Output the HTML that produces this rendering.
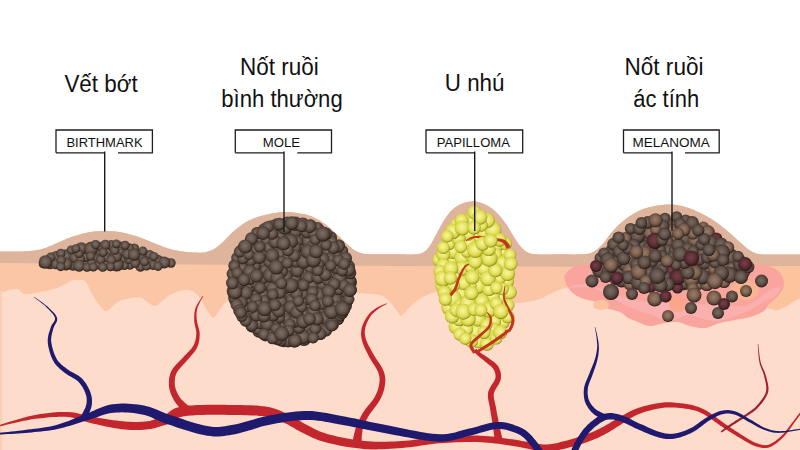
<!DOCTYPE html><html><head><meta charset="utf-8"><style>html,body{margin:0;padding:0;background:#fff}body{width:800px;height:450px;overflow:hidden;font-family:"Liberation Sans",sans-serif}svg{display:block}</style></head><body><svg width="800" height="450" viewBox="0 0 800 450"><defs>
<radialGradient id="gb" cx="47%" cy="44%" r="56%"><stop offset="0" stop-color="#7d6e66"/><stop offset="0.5" stop-color="#66574f"/><stop offset="0.82" stop-color="#483a33"/><stop offset="1" stop-color="#20160f"/></radialGradient>
<radialGradient id="gy" cx="47%" cy="44%" r="56%"><stop offset="0" stop-color="#f6f4a6"/><stop offset="0.35" stop-color="#eeeb78"/><stop offset="0.7" stop-color="#dcd950"/><stop offset="0.88" stop-color="#bab834"/><stop offset="1" stop-color="#787814"/></radialGradient>
<radialGradient id="gm" cx="47%" cy="44%" r="56%"><stop offset="0" stop-color="#7a6a60"/><stop offset="0.5" stop-color="#63544c"/><stop offset="0.82" stop-color="#453731"/><stop offset="1" stop-color="#1e1410"/></radialGradient>
<radialGradient id="gt" cx="47%" cy="44%" r="56%"><stop offset="0" stop-color="#9a7c66"/><stop offset="0.5" stop-color="#806453"/><stop offset="0.82" stop-color="#574237"/><stop offset="1" stop-color="#21160f"/></radialGradient>
<radialGradient id="gr" cx="47%" cy="44%" r="56%"><stop offset="0" stop-color="#764048"/><stop offset="0.5" stop-color="#603038"/><stop offset="0.82" stop-color="#452228"/><stop offset="1" stop-color="#200c10"/></radialGradient>
</defs><rect width="800" height="450" fill="#fff"/><path fill="#fac6a5" d="M-5.0 251.5 L-3.4 251.5 L-1.3 251.5 L1.3 251.5 L4.1 251.5 L7.0 251.5 L9.9 251.5 L12.6 251.5 L15.0 251.5 L17.1 251.5 L19.2 251.4 L21.1 251.4 L23.0 251.4 L24.8 251.3 L26.6 251.2 L28.3 251.1 L30.0 251.0 L31.6 250.8 L33.2 250.7 L34.7 250.5 L36.1 250.3 L37.6 250.0 L39.0 249.7 L40.5 249.4 L42.0 249.0 L43.6 248.5 L45.1 248.0 L46.7 247.4 L48.3 246.8 L49.9 246.1 L51.6 245.4 L53.3 244.7 L55.0 244.0 L56.8 243.2 L58.5 242.4 L60.3 241.6 L62.2 240.8 L64.1 239.9 L66.0 239.1 L68.0 238.3 L70.0 237.5 L72.1 236.8 L74.3 236.1 L76.6 235.4 L78.9 234.7 L81.2 234.1 L83.5 233.5 L85.8 232.9 L88.0 232.5 L90.2 232.1 L92.3 231.8 L94.4 231.5 L96.6 231.3 L98.7 231.2 L100.8 231.1 L102.9 231.0 L105.0 231.0 L107.1 231.0 L109.2 231.1 L111.3 231.2 L113.4 231.3 L115.6 231.5 L117.7 231.8 L119.8 232.1 L122.0 232.5 L124.2 233.0 L126.5 233.5 L128.8 234.1 L131.1 234.7 L133.4 235.4 L135.7 236.1 L137.9 236.8 L140.0 237.5 L142.0 238.2 L144.0 238.9 L145.8 239.7 L147.7 240.5 L149.5 241.2 L151.3 242.0 L153.1 242.8 L155.0 243.5 L156.9 244.2 L158.8 245.0 L160.7 245.7 L162.6 246.5 L164.5 247.2 L166.4 247.8 L168.2 248.5 L170.0 249.0 L171.7 249.5 L173.4 249.9 L175.1 250.2 L176.7 250.5 L178.3 250.8 L179.9 251.1 L181.4 251.3 L183.0 251.5 L184.6 251.7 L186.2 251.9 L187.7 252.0 L189.3 252.2 L190.8 252.3 L192.3 252.4 L193.7 252.4 L195.0 252.5 L196.2 252.6 L197.3 252.6 L198.3 252.7 L199.2 252.7 L200.2 252.7 L201.1 252.7 L202.0 252.6 L203.0 252.5 L204.0 252.4 L205.0 252.2 L206.1 252.0 L207.1 251.7 L208.1 251.4 L209.1 251.2 L210.1 250.8 L211.0 250.5 L211.8 250.2 L212.6 249.8 L213.4 249.4 L214.1 249.0 L214.8 248.6 L215.5 248.1 L216.2 247.6 L217.0 247.0 L217.8 246.4 L218.6 245.8 L219.4 245.1 L220.2 244.4 L221.1 243.7 L222.0 242.8 L223.0 242.0 L224.0 241.0 L225.1 239.9 L226.2 238.8 L227.4 237.5 L228.6 236.2 L229.9 234.9 L231.2 233.6 L232.6 232.3 L234.0 231.0 L235.5 229.8 L237.0 228.5 L238.7 227.2 L240.3 226.0 L242.0 224.7 L243.7 223.6 L245.4 222.5 L247.0 221.5 L248.6 220.6 L250.2 219.9 L251.8 219.2 L253.4 218.5 L255.0 217.9 L256.6 217.4 L258.3 216.8 L260.0 216.3 L261.8 215.8 L263.7 215.3 L265.6 214.8 L267.6 214.4 L269.5 214.0 L271.4 213.6 L273.3 213.3 L275.0 213.0 L276.6 212.7 L278.2 212.5 L279.7 212.3 L281.1 212.2 L282.6 212.1 L284.0 212.0 L285.5 212.0 L287.0 212.0 L288.6 212.1 L290.2 212.2 L291.8 212.3 L293.5 212.5 L295.2 212.7 L296.8 213.0 L298.4 213.2 L300.0 213.5 L301.5 213.8 L303.0 214.0 L304.5 214.3 L306.0 214.6 L307.5 215.0 L309.0 215.4 L310.5 215.9 L312.0 216.5 L313.6 217.2 L315.2 218.0 L316.8 218.9 L318.5 219.8 L320.2 220.8 L321.8 221.8 L323.4 222.9 L325.0 224.0 L326.6 225.2 L328.1 226.4 L329.7 227.8 L331.2 229.1 L332.7 230.5 L334.2 231.9 L335.6 233.2 L337.0 234.5 L338.4 235.8 L339.7 237.0 L341.0 238.3 L342.2 239.5 L343.5 240.7 L344.7 241.9 L345.9 243.0 L347.0 244.0 L348.1 245.0 L349.1 245.9 L350.1 246.8 L351.1 247.6 L352.0 248.4 L353.0 249.2 L354.0 249.9 L355.0 250.5 L356.0 251.1 L357.0 251.6 L358.0 252.1 L359.0 252.5 L360.1 252.9 L361.2 253.2 L362.5 253.5 L364.0 253.8 L365.6 254.0 L367.4 254.1 L369.3 254.2 L371.3 254.3 L373.4 254.3 L375.6 254.3 L377.8 254.3 L380.0 254.3 L382.3 254.3 L384.8 254.3 L387.4 254.3 L390.1 254.3 L392.7 254.3 L395.3 254.3 L397.7 254.3 L400.0 254.3 L402.2 254.3 L404.3 254.3 L406.3 254.4 L408.2 254.4 L410.1 254.4 L411.9 254.4 L413.5 254.4 L415.0 254.3 L416.3 254.2 L417.5 254.1 L418.6 253.9 L419.6 253.7 L420.5 253.5 L421.3 253.3 L422.1 252.9 L423.0 252.5 L423.8 252.0 L424.6 251.5 L425.4 251.0 L426.1 250.4 L426.8 249.7 L427.5 248.9 L428.2 248.0 L429.0 247.0 L429.8 245.8 L430.7 244.5 L431.6 243.0 L432.4 241.5 L433.3 239.9 L434.2 238.2 L435.1 236.6 L436.0 235.0 L436.9 233.4 L437.7 231.8 L438.6 230.1 L439.4 228.4 L440.3 226.8 L441.2 225.1 L442.1 223.5 L443.0 222.0 L443.9 220.5 L444.9 219.0 L445.9 217.5 L446.9 216.1 L447.9 214.7 L448.9 213.4 L449.9 212.1 L451.0 211.0 L452.1 209.9 L453.2 209.0 L454.3 208.1 L455.4 207.2 L456.5 206.5 L457.7 205.8 L458.8 205.1 L460.0 204.5 L461.2 203.9 L462.5 203.4 L463.8 203.0 L465.1 202.6 L466.4 202.2 L467.6 201.9 L468.8 201.7 L470.0 201.5 L471.1 201.4 L472.1 201.3 L473.1 201.3 L474.0 201.3 L474.9 201.4 L475.9 201.5 L476.9 201.7 L478.0 202.0 L479.2 202.3 L480.4 202.7 L481.6 203.1 L482.9 203.6 L484.2 204.1 L485.5 204.7 L486.8 205.3 L488.0 206.0 L489.2 206.7 L490.3 207.4 L491.4 208.2 L492.6 209.1 L493.7 210.0 L494.8 210.9 L495.9 211.9 L497.0 213.0 L498.1 214.2 L499.3 215.4 L500.4 216.7 L501.6 218.1 L502.7 219.6 L503.8 221.0 L504.9 222.5 L506.0 224.0 L507.1 225.5 L508.1 227.2 L509.1 228.9 L510.1 230.6 L511.1 232.3 L512.1 233.9 L513.1 235.5 L514.0 237.0 L514.9 238.4 L515.8 239.8 L516.7 241.2 L517.6 242.5 L518.4 243.7 L519.3 244.9 L520.1 246.0 L521.0 247.0 L521.9 247.9 L522.7 248.8 L523.5 249.6 L524.4 250.3 L525.2 250.9 L526.1 251.5 L527.0 252.0 L528.0 252.5 L528.9 252.9 L529.8 253.3 L530.6 253.5 L531.5 253.7 L532.5 253.9 L533.7 254.1 L535.2 254.2 L537.0 254.3 L539.2 254.4 L541.8 254.4 L544.7 254.4 L547.8 254.4 L551.0 254.4 L554.1 254.3 L557.2 254.3 L560.0 254.3 L562.7 254.3 L565.4 254.3 L568.2 254.3 L570.8 254.4 L573.4 254.4 L575.8 254.4 L578.0 254.3 L580.0 254.3 L581.7 254.2 L583.3 254.2 L584.6 254.1 L585.8 254.0 L586.9 253.9 L587.9 253.8 L589.0 253.6 L590.0 253.3 L591.0 253.0 L592.0 252.6 L592.8 252.2 L593.7 251.8 L594.5 251.3 L595.3 250.7 L596.1 250.1 L597.0 249.5 L597.9 248.8 L598.7 248.1 L599.6 247.3 L600.4 246.4 L601.3 245.5 L602.2 244.6 L603.1 243.6 L604.0 242.5 L604.9 241.4 L605.9 240.1 L606.8 238.8 L607.8 237.4 L608.8 236.1 L609.8 234.7 L610.9 233.3 L612.0 232.0 L613.1 230.7 L614.3 229.4 L615.6 228.1 L616.8 226.8 L618.1 225.6 L619.4 224.3 L620.7 223.2 L622.0 222.0 L623.3 220.9 L624.7 219.8 L626.0 218.7 L627.4 217.7 L628.8 216.7 L630.2 215.8 L631.6 214.9 L633.0 214.0 L634.4 213.2 L635.9 212.4 L637.4 211.6 L638.9 210.9 L640.4 210.3 L641.9 209.6 L643.4 209.1 L645.0 208.5 L646.6 208.0 L648.2 207.5 L649.8 207.1 L651.5 206.7 L653.2 206.4 L654.8 206.1 L656.4 205.8 L658.0 205.5 L659.5 205.3 L661.1 205.1 L662.6 204.9 L664.1 204.7 L665.5 204.6 L667.0 204.5 L668.5 204.5 L670.0 204.5 L671.5 204.5 L673.0 204.6 L674.5 204.7 L675.9 204.9 L677.4 205.1 L678.9 205.4 L680.5 205.7 L682.0 206.0 L683.6 206.4 L685.2 206.9 L686.8 207.4 L688.4 207.9 L690.1 208.5 L691.7 209.2 L693.4 209.8 L695.0 210.5 L696.6 211.2 L698.3 211.9 L699.9 212.7 L701.6 213.5 L703.2 214.4 L704.8 215.2 L706.4 216.1 L708.0 217.0 L709.5 217.9 L711.1 218.8 L712.6 219.8 L714.1 220.8 L715.5 221.8 L717.0 222.8 L718.5 223.9 L720.0 225.0 L721.5 226.2 L723.0 227.4 L724.6 228.6 L726.1 229.9 L727.6 231.2 L729.1 232.5 L730.6 233.8 L732.0 235.0 L733.4 236.2 L734.7 237.4 L736.0 238.6 L737.2 239.7 L738.5 240.9 L739.7 241.9 L740.9 243.0 L742.0 244.0 L743.1 245.0 L744.1 245.9 L745.1 246.8 L746.1 247.6 L747.0 248.4 L748.0 249.1 L749.0 249.8 L750.0 250.5 L751.0 251.1 L752.0 251.7 L753.0 252.2 L754.0 252.6 L755.1 253.0 L756.2 253.4 L757.5 253.7 L759.0 254.0 L760.6 254.2 L762.2 254.4 L763.9 254.5 L765.7 254.5 L767.7 254.5 L769.9 254.6 L772.3 254.6 L775.0 254.6 L778.3 254.6 L782.2 254.6 L786.5 254.6 L791.0 254.6 L795.3 254.6 L799.3 254.6 L802.6 254.6 L805.0 254.6 L805 455 L-5 455 Z"/><path fill="#deb49c" d="M-5.0 251.5 L-3.4 251.5 L-1.3 251.5 L1.3 251.5 L4.1 251.5 L7.0 251.5 L9.9 251.5 L12.6 251.5 L15.0 251.5 L17.1 251.5 L19.2 251.4 L21.1 251.4 L23.0 251.4 L24.8 251.3 L26.6 251.2 L28.3 251.1 L30.0 251.0 L31.6 250.8 L33.2 250.7 L34.7 250.5 L36.1 250.3 L37.6 250.0 L39.0 249.7 L40.5 249.4 L42.0 249.0 L43.6 248.5 L45.1 248.0 L46.7 247.4 L48.3 246.8 L49.9 246.1 L51.6 245.4 L53.3 244.7 L55.0 244.0 L56.8 243.2 L58.5 242.4 L60.3 241.6 L62.2 240.8 L64.1 239.9 L66.0 239.1 L68.0 238.3 L70.0 237.5 L72.1 236.8 L74.3 236.1 L76.6 235.4 L78.9 234.7 L81.2 234.1 L83.5 233.5 L85.8 232.9 L88.0 232.5 L90.2 232.1 L92.3 231.8 L94.4 231.5 L96.6 231.3 L98.7 231.2 L100.8 231.1 L102.9 231.0 L105.0 231.0 L107.1 231.0 L109.2 231.1 L111.3 231.2 L113.4 231.3 L115.6 231.5 L117.7 231.8 L119.8 232.1 L122.0 232.5 L124.2 233.0 L126.5 233.5 L128.8 234.1 L131.1 234.7 L133.4 235.4 L135.7 236.1 L137.9 236.8 L140.0 237.5 L142.0 238.2 L144.0 238.9 L145.8 239.7 L147.7 240.5 L149.5 241.2 L151.3 242.0 L153.1 242.8 L155.0 243.5 L156.9 244.2 L158.8 245.0 L160.7 245.7 L162.6 246.5 L164.5 247.2 L166.4 247.8 L168.2 248.5 L170.0 249.0 L171.7 249.5 L173.4 249.9 L175.1 250.2 L176.7 250.5 L178.3 250.8 L179.9 251.1 L181.4 251.3 L183.0 251.5 L184.6 251.7 L186.2 251.9 L187.7 252.0 L189.3 252.2 L190.8 252.3 L192.3 252.4 L193.7 252.4 L195.0 252.5 L196.2 252.6 L197.3 252.6 L198.3 252.7 L199.2 252.7 L200.2 252.7 L201.1 252.7 L202.0 252.6 L203.0 252.5 L204.0 252.4 L205.0 252.2 L206.1 252.0 L207.1 251.7 L208.1 251.4 L209.1 251.2 L210.1 250.8 L211.0 250.5 L211.8 250.2 L212.6 249.8 L213.4 249.4 L214.1 249.0 L214.8 248.6 L215.5 248.1 L216.2 247.6 L217.0 247.0 L217.8 246.4 L218.6 245.8 L219.4 245.1 L220.2 244.4 L221.1 243.7 L222.0 242.8 L223.0 242.0 L224.0 241.0 L225.1 239.9 L226.2 238.8 L227.4 237.5 L228.6 236.2 L229.9 234.9 L231.2 233.6 L232.6 232.3 L234.0 231.0 L235.5 229.8 L237.0 228.5 L238.7 227.2 L240.3 226.0 L242.0 224.7 L243.7 223.6 L245.4 222.5 L247.0 221.5 L248.6 220.6 L250.2 219.9 L251.8 219.2 L253.4 218.5 L255.0 217.9 L256.6 217.4 L258.3 216.8 L260.0 216.3 L261.8 215.8 L263.7 215.3 L265.6 214.8 L267.6 214.4 L269.5 214.0 L271.4 213.6 L273.3 213.3 L275.0 213.0 L276.6 212.7 L278.2 212.5 L279.7 212.3 L281.1 212.2 L282.6 212.1 L284.0 212.0 L285.5 212.0 L287.0 212.0 L288.6 212.1 L290.2 212.2 L291.8 212.3 L293.5 212.5 L295.2 212.7 L296.8 213.0 L298.4 213.2 L300.0 213.5 L301.5 213.8 L303.0 214.0 L304.5 214.3 L306.0 214.6 L307.5 215.0 L309.0 215.4 L310.5 215.9 L312.0 216.5 L313.6 217.2 L315.2 218.0 L316.8 218.9 L318.5 219.8 L320.2 220.8 L321.8 221.8 L323.4 222.9 L325.0 224.0 L326.6 225.2 L328.1 226.4 L329.7 227.8 L331.2 229.1 L332.7 230.5 L334.2 231.9 L335.6 233.2 L337.0 234.5 L338.4 235.8 L339.7 237.0 L341.0 238.3 L342.2 239.5 L343.5 240.7 L344.7 241.9 L345.9 243.0 L347.0 244.0 L348.1 245.0 L349.1 245.9 L350.1 246.8 L351.1 247.6 L352.0 248.4 L353.0 249.2 L354.0 249.9 L355.0 250.5 L356.0 251.1 L357.0 251.6 L358.0 252.1 L359.0 252.5 L360.1 252.9 L361.2 253.2 L362.5 253.5 L364.0 253.8 L365.6 254.0 L367.4 254.1 L369.3 254.2 L371.3 254.3 L373.4 254.3 L375.6 254.3 L377.8 254.3 L380.0 254.3 L382.3 254.3 L384.8 254.3 L387.4 254.3 L390.1 254.3 L392.7 254.3 L395.3 254.3 L397.7 254.3 L400.0 254.3 L402.2 254.3 L404.3 254.3 L406.3 254.4 L408.2 254.4 L410.1 254.4 L411.9 254.4 L413.5 254.4 L415.0 254.3 L416.3 254.2 L417.5 254.1 L418.6 253.9 L419.6 253.7 L420.5 253.5 L421.3 253.3 L422.1 252.9 L423.0 252.5 L423.8 252.0 L424.6 251.5 L425.4 251.0 L426.1 250.4 L426.8 249.7 L427.5 248.9 L428.2 248.0 L429.0 247.0 L429.8 245.8 L430.7 244.5 L431.6 243.0 L432.4 241.5 L433.3 239.9 L434.2 238.2 L435.1 236.6 L436.0 235.0 L436.9 233.4 L437.7 231.8 L438.6 230.1 L439.4 228.4 L440.3 226.8 L441.2 225.1 L442.1 223.5 L443.0 222.0 L443.9 220.5 L444.9 219.0 L445.9 217.5 L446.9 216.1 L447.9 214.7 L448.9 213.4 L449.9 212.1 L451.0 211.0 L452.1 209.9 L453.2 209.0 L454.3 208.1 L455.4 207.2 L456.5 206.5 L457.7 205.8 L458.8 205.1 L460.0 204.5 L461.2 203.9 L462.5 203.4 L463.8 203.0 L465.1 202.6 L466.4 202.2 L467.6 201.9 L468.8 201.7 L470.0 201.5 L471.1 201.4 L472.1 201.3 L473.1 201.3 L474.0 201.3 L474.9 201.4 L475.9 201.5 L476.9 201.7 L478.0 202.0 L479.2 202.3 L480.4 202.7 L481.6 203.1 L482.9 203.6 L484.2 204.1 L485.5 204.7 L486.8 205.3 L488.0 206.0 L489.2 206.7 L490.3 207.4 L491.4 208.2 L492.6 209.1 L493.7 210.0 L494.8 210.9 L495.9 211.9 L497.0 213.0 L498.1 214.2 L499.3 215.4 L500.4 216.7 L501.6 218.1 L502.7 219.6 L503.8 221.0 L504.9 222.5 L506.0 224.0 L507.1 225.5 L508.1 227.2 L509.1 228.9 L510.1 230.6 L511.1 232.3 L512.1 233.9 L513.1 235.5 L514.0 237.0 L514.9 238.4 L515.8 239.8 L516.7 241.2 L517.6 242.5 L518.4 243.7 L519.3 244.9 L520.1 246.0 L521.0 247.0 L521.9 247.9 L522.7 248.8 L523.5 249.6 L524.4 250.3 L525.2 250.9 L526.1 251.5 L527.0 252.0 L528.0 252.5 L528.9 252.9 L529.8 253.3 L530.6 253.5 L531.5 253.7 L532.5 253.9 L533.7 254.1 L535.2 254.2 L537.0 254.3 L539.2 254.4 L541.8 254.4 L544.7 254.4 L547.8 254.4 L551.0 254.4 L554.1 254.3 L557.2 254.3 L560.0 254.3 L562.7 254.3 L565.4 254.3 L568.2 254.3 L570.8 254.4 L573.4 254.4 L575.8 254.4 L578.0 254.3 L580.0 254.3 L581.7 254.2 L583.3 254.2 L584.6 254.1 L585.8 254.0 L586.9 253.9 L587.9 253.8 L589.0 253.6 L590.0 253.3 L591.0 253.0 L592.0 252.6 L592.8 252.2 L593.7 251.8 L594.5 251.3 L595.3 250.7 L596.1 250.1 L597.0 249.5 L597.9 248.8 L598.7 248.1 L599.6 247.3 L600.4 246.4 L601.3 245.5 L602.2 244.6 L603.1 243.6 L604.0 242.5 L604.9 241.4 L605.9 240.1 L606.8 238.8 L607.8 237.4 L608.8 236.1 L609.8 234.7 L610.9 233.3 L612.0 232.0 L613.1 230.7 L614.3 229.4 L615.6 228.1 L616.8 226.8 L618.1 225.6 L619.4 224.3 L620.7 223.2 L622.0 222.0 L623.3 220.9 L624.7 219.8 L626.0 218.7 L627.4 217.7 L628.8 216.7 L630.2 215.8 L631.6 214.9 L633.0 214.0 L634.4 213.2 L635.9 212.4 L637.4 211.6 L638.9 210.9 L640.4 210.3 L641.9 209.6 L643.4 209.1 L645.0 208.5 L646.6 208.0 L648.2 207.5 L649.8 207.1 L651.5 206.7 L653.2 206.4 L654.8 206.1 L656.4 205.8 L658.0 205.5 L659.5 205.3 L661.1 205.1 L662.6 204.9 L664.1 204.7 L665.5 204.6 L667.0 204.5 L668.5 204.5 L670.0 204.5 L671.5 204.5 L673.0 204.6 L674.5 204.7 L675.9 204.9 L677.4 205.1 L678.9 205.4 L680.5 205.7 L682.0 206.0 L683.6 206.4 L685.2 206.9 L686.8 207.4 L688.4 207.9 L690.1 208.5 L691.7 209.2 L693.4 209.8 L695.0 210.5 L696.6 211.2 L698.3 211.9 L699.9 212.7 L701.6 213.5 L703.2 214.4 L704.8 215.2 L706.4 216.1 L708.0 217.0 L709.5 217.9 L711.1 218.8 L712.6 219.8 L714.1 220.8 L715.5 221.8 L717.0 222.8 L718.5 223.9 L720.0 225.0 L721.5 226.2 L723.0 227.4 L724.6 228.6 L726.1 229.9 L727.6 231.2 L729.1 232.5 L730.6 233.8 L732.0 235.0 L733.4 236.2 L734.7 237.4 L736.0 238.6 L737.2 239.7 L738.5 240.9 L739.7 241.9 L740.9 243.0 L742.0 244.0 L743.1 245.0 L744.1 245.9 L745.1 246.8 L746.1 247.6 L747.0 248.4 L748.0 249.1 L749.0 249.8 L750.0 250.5 L751.0 251.1 L752.0 251.7 L753.0 252.2 L754.0 252.6 L755.1 253.0 L756.2 253.4 L757.5 253.7 L759.0 254.0 L760.6 254.2 L762.2 254.4 L763.9 254.5 L765.7 254.5 L767.7 254.5 L769.9 254.6 L772.3 254.6 L775.0 254.6 L778.3 254.6 L782.2 254.6 L786.5 254.6 L791.0 254.6 L795.3 254.6 L799.3 254.6 L802.6 254.6 L805.0 254.6 L805 268 L400 266 L-5 263 Z"/><path fill="#fbc49c" d="M764 266 L805 266 L805 297 Q790 306 778 309 Q768 306 766 296 Q772 284 764 266Z"/><path fill="#fddccb" d="M-5.0 292.0 L-4.4 292.0 L-3.5 292.0 L-2.5 292.1 L-1.4 292.1 L-0.3 292.1 L0.9 292.1 L2.0 292.1 L3.0 292.0 L3.9 291.8 L4.8 291.6 L5.7 291.4 L6.5 291.1 L7.3 290.8 L8.2 290.5 L9.1 290.2 L10.0 290.0 L11.0 289.8 L12.0 289.6 L13.1 289.4 L14.2 289.2 L15.3 289.0 L16.3 288.9 L17.2 288.9 L18.0 289.0 L18.6 289.2 L19.1 289.5 L19.4 289.9 L19.8 290.3 L20.0 290.8 L20.3 291.2 L20.6 291.6 L21.0 292.0 L21.4 292.3 L21.8 292.6 L22.2 293.0 L22.6 293.2 L23.0 293.5 L23.6 293.7 L24.2 293.9 L25.0 294.0 L25.9 294.0 L27.0 294.0 L28.1 293.9 L29.3 293.8 L30.6 293.7 L32.0 293.5 L33.5 293.2 L35.0 293.0 L36.7 292.7 L38.5 292.4 L40.4 292.1 L42.4 291.7 L44.4 291.3 L46.3 290.9 L48.2 290.4 L50.0 290.0 L51.7 289.6 L53.3 289.1 L54.8 288.6 L56.3 288.2 L57.8 287.7 L59.2 287.1 L60.6 286.6 L62.0 286.0 L63.4 285.4 L64.7 284.6 L66.0 283.8 L67.2 283.0 L68.5 282.3 L69.7 281.6 L70.9 281.0 L72.0 280.5 L73.1 280.2 L74.2 280.0 L75.2 279.8 L76.2 279.8 L77.2 279.8 L78.2 279.8 L79.1 279.9 L80.0 280.0 L80.8 280.1 L81.6 280.1 L82.4 280.1 L83.1 280.2 L83.8 280.4 L84.5 280.7 L85.3 281.3 L86.0 282.0 L86.7 283.0 L87.5 284.3 L88.2 285.8 L88.9 287.4 L89.6 289.1 L90.4 290.8 L91.2 292.4 L92.0 294.0 L92.9 295.5 L93.9 297.2 L94.9 298.8 L96.0 300.4 L97.1 302.0 L98.1 303.5 L99.1 304.8 L100.0 306.0 L100.8 307.0 L101.6 308.0 L102.4 308.8 L103.1 309.5 L103.8 310.1 L104.5 310.5 L105.3 310.9 L106.0 311.0 L106.8 310.9 L107.5 310.7 L108.2 310.2 L109.0 309.6 L109.8 309.0 L110.5 308.3 L111.2 307.6 L112.0 307.0 L112.7 306.4 L113.5 305.8 L114.2 305.1 L114.9 304.4 L115.6 303.8 L116.4 303.1 L117.2 302.5 L118.0 302.0 L118.9 301.5 L119.7 301.1 L120.6 300.7 L121.5 300.3 L122.5 299.9 L123.5 299.6 L124.7 299.3 L126.0 299.0 L127.5 298.7 L129.2 298.4 L131.1 298.1 L133.1 297.8 L135.0 297.6 L136.9 297.4 L138.5 297.4 L140.0 297.5 L141.2 297.8 L142.2 298.2 L143.1 298.8 L143.9 299.4 L144.6 300.1 L145.3 300.8 L146.1 301.4 L147.0 302.0 L148.0 302.6 L149.0 303.2 L150.0 303.9 L151.0 304.6 L152.0 305.2 L153.0 305.6 L154.0 305.9 L155.0 306.0 L155.9 305.8 L156.8 305.4 L157.7 304.8 L158.5 304.1 L159.3 303.3 L160.2 302.5 L161.1 301.7 L162.0 301.0 L163.0 300.3 L163.9 299.5 L164.9 298.7 L165.9 297.9 L167.0 297.1 L168.0 296.3 L169.0 295.6 L170.0 295.0 L171.0 294.4 L172.0 293.9 L173.0 293.4 L174.0 293.0 L175.0 292.6 L176.0 292.2 L177.0 291.8 L178.0 291.5 L179.0 291.2 L180.0 290.9 L181.0 290.7 L182.1 290.4 L183.1 290.3 L184.1 290.1 L185.0 290.0 L186.0 290.0 L186.9 290.0 L187.8 290.0 L188.7 290.1 L189.6 290.2 L190.4 290.4 L191.3 290.7 L192.1 291.1 L193.0 291.5 L193.9 292.0 L194.8 292.6 L195.6 293.3 L196.5 294.1 L197.4 294.9 L198.2 295.9 L199.1 296.9 L200.0 298.0 L200.9 299.3 L201.8 300.7 L202.7 302.3 L203.6 303.9 L204.4 305.6 L205.3 307.2 L206.2 308.7 L207.0 310.0 L207.8 311.2 L208.6 312.5 L209.3 313.8 L210.1 314.9 L210.8 315.9 L211.5 316.7 L212.3 317.3 L213.0 317.5 L213.8 317.4 L214.5 316.9 L215.2 316.2 L216.0 315.2 L216.8 314.2 L217.5 313.1 L218.2 312.0 L219.0 311.0 L219.7 310.0 L220.5 309.0 L221.2 307.9 L221.9 306.8 L222.7 305.8 L223.4 304.8 L224.2 303.8 L225.0 303.0 L225.8 302.3 L226.4 301.7 L227.1 301.2 L227.8 300.7 L228.5 300.3 L229.5 299.8 L230.6 299.4 L232.0 299.0 L233.5 298.6 L235.0 298.2 L236.5 297.8 L238.3 297.4 L240.4 297.0 L243.0 296.7 L246.1 296.3 L250.0 296.0 L254.7 295.7 L260.2 295.4 L266.4 295.1 L273.0 294.9 L279.8 294.6 L286.8 294.4 L293.5 294.2 L300.0 294.0 L306.5 293.8 L313.2 293.6 L320.1 293.5 L326.9 293.3 L333.4 293.2 L339.6 293.1 L345.2 293.0 L350.0 293.0 L354.0 293.0 L357.3 293.1 L360.1 293.2 L362.4 293.3 L364.5 293.5 L366.3 293.7 L368.1 293.8 L370.0 294.0 L371.8 294.1 L373.4 294.2 L374.9 294.3 L376.2 294.4 L377.4 294.5 L378.6 294.8 L379.8 295.1 L381.0 295.5 L382.2 296.0 L383.4 296.6 L384.5 297.3 L385.6 298.0 L386.6 298.9 L387.7 299.8 L388.8 300.8 L390.0 302.0 L391.2 303.4 L392.6 305.1 L394.0 307.0 L395.4 308.9 L396.7 310.8 L398.0 312.5 L399.1 314.0 L400.0 315.0 L400.7 315.6 L401.2 315.9 L401.5 316.0 L401.8 315.9 L402.0 315.6 L402.3 315.3 L402.6 314.9 L403.0 314.5 L403.5 314.1 L404.0 313.5 L404.6 312.9 L405.2 312.2 L405.8 311.4 L406.5 310.6 L407.2 309.8 L408.0 309.0 L408.8 308.1 L409.8 307.2 L410.7 306.2 L411.8 305.2 L412.8 304.3 L413.9 303.3 L414.9 302.4 L416.0 301.5 L417.1 300.7 L418.1 299.9 L419.2 299.2 L420.3 298.5 L421.4 297.8 L422.6 297.2 L423.8 296.6 L425.0 296.0 L426.2 295.4 L427.3 294.9 L428.4 294.4 L429.6 293.9 L430.8 293.5 L432.3 293.1 L434.0 292.8 L436.0 292.5 L438.3 292.2 L440.7 292.0 L443.3 291.7 L446.2 291.5 L449.3 291.4 L452.6 291.5 L456.1 291.6 L460.0 292.0 L464.4 292.6 L469.5 293.5 L474.9 294.6 L480.6 295.8 L486.1 297.0 L491.4 298.2 L496.1 299.2 L500.0 300.0 L503.1 300.6 L505.6 301.2 L507.6 301.7 L509.3 302.1 L510.8 302.4 L512.1 302.6 L513.5 302.9 L515.0 303.0 L516.5 303.1 L518.0 303.1 L519.3 303.0 L520.6 302.9 L521.8 302.7 L523.1 302.5 L524.5 302.2 L526.0 302.0 L527.6 301.7 L529.4 301.4 L531.2 301.1 L533.1 300.8 L534.9 300.4 L536.7 299.9 L538.4 299.5 L540.0 299.0 L541.4 298.5 L542.7 297.9 L544.0 297.3 L545.1 296.6 L546.3 296.0 L547.5 295.3 L548.7 294.6 L550.0 294.0 L551.4 293.4 L552.8 292.7 L554.3 292.0 L555.8 291.3 L557.3 290.7 L558.9 290.0 L560.4 289.5 L562.0 289.0 L563.5 288.6 L564.9 288.2 L566.3 287.8 L567.7 287.5 L569.2 287.3 L570.9 287.1 L572.8 287.0 L575.0 287.0 L577.0 287.1 L578.6 287.2 L580.2 287.5 L582.1 287.8 L584.6 288.1 L588.2 288.6 L593.2 289.3 L600.0 290.0 L609.2 290.9 L620.5 292.1 L633.5 293.3 L647.5 294.7 L661.8 296.1 L675.7 297.5 L688.7 298.8 L700.0 300.0 L710.2 301.1 L720.0 302.3 L729.4 303.4 L738.1 304.5 L746.2 305.5 L753.4 306.4 L759.7 307.3 L765.0 308.0 L768.9 308.6 L771.4 309.2 L772.8 309.6 L773.4 310.0 L773.7 310.2 L773.8 310.4 L774.1 310.5 L775.0 310.5 L776.2 310.4 L777.5 310.1 L778.8 309.7 L780.0 309.3 L781.2 308.8 L782.5 308.2 L783.8 307.6 L785.0 307.0 L786.2 306.4 L787.5 305.7 L788.8 304.9 L790.0 304.1 L791.2 303.3 L792.5 302.5 L793.8 301.7 L795.0 301.0 L796.3 300.3 L797.7 299.6 L799.2 298.8 L800.6 298.1 L802.0 297.5 L803.2 296.9 L804.2 296.4 L805.0 296.0 L805 455 L-5 455 Z"/><path fill="#f9a49d" d="M564.0 276.0 L564.5 275.4 L565.2 274.5 L566.0 273.4 L566.9 272.2 L567.9 271.1 L569.1 269.9 L570.5 268.9 L572.0 268.0 L573.8 267.3 L575.8 266.6 L577.9 266.1 L580.2 265.6 L582.7 265.1 L585.1 264.7 L587.6 264.3 L590.0 264.0 L591.9 263.7 L593.2 263.5 L594.3 263.4 L595.5 263.2 L597.3 263.2 L600.0 263.1 L604.1 263.1 L610.0 263.0 L618.2 262.9 L628.6 262.9 L640.6 262.9 L653.4 262.9 L666.5 262.9 L679.0 262.9 L690.4 262.9 L700.0 263.0 L707.9 263.1 L714.9 263.2 L721.1 263.3 L726.7 263.4 L731.7 263.5 L736.4 263.7 L740.7 263.8 L745.0 264.0 L749.0 264.2 L752.6 264.3 L755.7 264.5 L758.6 264.6 L761.1 264.8 L763.5 265.1 L765.8 265.5 L768.0 266.0 L770.1 266.6 L772.0 267.3 L773.7 268.0 L775.2 268.9 L776.6 269.8 L777.8 270.8 L779.0 271.9 L780.0 273.0 L781.0 274.3 L781.8 275.7 L782.5 277.2 L783.1 278.8 L783.6 280.4 L783.9 282.0 L784.0 283.5 L784.0 285.0 L783.7 286.4 L783.3 287.9 L782.6 289.3 L781.8 290.8 L780.9 292.1 L779.9 293.5 L779.0 294.8 L778.0 296.0 L777.0 297.2 L775.9 298.2 L774.7 299.3 L773.4 300.2 L772.2 301.2 L771.0 302.1 L770.0 303.1 L769.0 304.0 L768.2 304.9 L767.7 305.8 L767.2 306.7 L766.8 307.6 L766.4 308.5 L765.8 309.3 L765.0 310.2 L764.0 311.0 L762.7 311.8 L761.2 312.6 L759.5 313.5 L757.6 314.2 L755.7 315.0 L753.8 315.7 L751.9 316.4 L750.0 317.0 L748.2 317.5 L746.3 318.0 L744.4 318.3 L742.6 318.7 L740.7 319.0 L738.8 319.3 L736.9 319.6 L735.0 320.0 L733.1 320.4 L731.2 320.7 L729.4 321.0 L727.5 321.4 L725.6 321.7 L723.8 322.1 L721.9 322.5 L720.0 323.0 L718.1 323.6 L716.2 324.3 L714.4 325.0 L712.5 325.8 L710.6 326.5 L708.8 327.2 L706.9 327.7 L705.0 328.0 L703.1 328.1 L701.2 328.0 L699.2 327.9 L697.3 327.6 L695.4 327.2 L693.5 326.8 L691.7 326.4 L690.0 326.0 L688.4 325.6 L686.8 325.0 L685.3 324.4 L683.9 323.8 L682.4 323.2 L681.0 322.7 L679.5 322.3 L678.0 322.0 L676.4 321.9 L674.9 321.9 L673.3 321.9 L671.7 322.1 L670.1 322.3 L668.4 322.5 L666.7 322.7 L665.0 323.0 L663.2 323.3 L661.3 323.8 L659.4 324.3 L657.4 324.8 L655.5 325.3 L653.6 325.7 L651.7 325.9 L650.0 326.0 L648.3 325.8 L646.7 325.5 L645.2 325.0 L643.7 324.4 L642.2 323.8 L640.8 323.2 L639.4 322.5 L638.0 322.0 L636.6 321.5 L635.3 321.0 L634.0 320.6 L632.8 320.1 L631.5 319.6 L630.3 319.1 L629.1 318.6 L628.0 318.0 L626.9 317.3 L626.0 316.6 L625.1 315.8 L624.2 315.0 L623.4 314.2 L622.4 313.4 L621.3 312.7 L620.0 312.0 L618.5 311.4 L616.8 310.9 L615.0 310.4 L613.1 310.0 L611.2 309.6 L609.4 309.1 L607.6 308.6 L606.0 308.0 L604.6 307.3 L603.3 306.6 L602.0 305.8 L600.9 304.9 L599.7 304.1 L598.5 303.3 L597.3 302.6 L596.0 302.0 L594.6 301.5 L593.1 301.1 L591.6 300.7 L590.0 300.4 L588.4 300.1 L586.9 299.8 L585.4 299.5 L584.0 299.0 L582.6 298.5 L581.3 298.0 L580.0 297.4 L578.7 296.8 L577.4 296.2 L576.2 295.5 L575.1 294.8 L574.0 294.0 L573.0 293.2 L571.9 292.3 L571.0 291.3 L570.1 290.3 L569.2 289.3 L568.4 288.2 L567.7 287.1 L567.0 286.0 L566.4 284.8 L565.9 283.4 L565.5 282.0 L565.1 280.5 L564.7 279.1 L564.4 277.8 L564.2 276.8 L564.0 276.0 Z"/><path fill="#fab0ae" d="M568.0 288.0 L568.9 287.6 L570.1 287.1 L571.4 286.4 L573.0 285.7 L574.7 285.0 L576.4 284.5 L578.2 284.1 L580.0 284.0 L581.8 284.2 L583.8 284.5 L585.8 285.1 L587.9 285.8 L590.0 286.5 L592.0 287.3 L594.1 288.2 L596.0 289.0 L597.8 289.9 L599.6 290.8 L601.4 291.8 L603.1 292.8 L604.8 293.9 L606.5 294.9 L608.2 296.0 L610.0 297.0 L611.8 298.0 L613.7 299.0 L615.6 300.1 L617.4 301.1 L619.3 302.1 L621.2 303.1 L623.1 304.1 L625.0 305.0 L626.9 305.9 L628.8 306.7 L630.6 307.4 L632.5 308.2 L634.4 308.9 L636.2 309.6 L638.1 310.3 L640.0 311.0 L641.9 311.7 L643.8 312.3 L645.7 312.9 L647.6 313.6 L649.5 314.2 L651.4 314.8 L653.2 315.4 L655.0 316.0 L656.7 316.7 L658.4 317.4 L660.1 318.2 L661.7 319.0 L663.3 319.7 L664.9 320.3 L666.4 320.8 L668.0 321.0 L669.6 321.0 L671.1 320.8 L672.7 320.5 L674.2 320.0 L675.7 319.5 L677.2 318.9 L678.6 318.4 L680.0 318.0 L681.3 317.6 L682.6 317.1 L683.9 316.6 L685.1 316.1 L686.3 315.7 L687.5 315.3 L688.8 315.1 L690.0 315.0 L691.2 315.1 L692.4 315.3 L693.5 315.7 L694.7 316.1 L695.9 316.6 L697.1 317.1 L698.5 317.6 L700.0 318.0 L701.6 318.4 L703.4 318.9 L705.3 319.4 L707.2 319.9 L709.2 320.3 L711.1 320.7 L713.1 320.9 L715.0 321.0 L716.9 320.9 L718.7 320.8 L720.5 320.5 L722.3 320.1 L724.2 319.7 L726.0 319.2 L728.0 318.6 L730.0 318.0 L732.1 317.3 L734.4 316.5 L736.8 315.7 L739.2 314.8 L741.6 313.8 L743.9 312.8 L746.0 311.9 L748.0 311.0 L749.8 310.1 L751.4 309.3 L752.8 308.4 L754.2 307.6 L755.5 306.7 L756.9 305.8 L758.4 304.9 L760.0 304.0 L761.8 303.0 L763.8 302.1 L765.8 301.1 L767.9 300.1 L770.0 299.0 L771.9 298.0 L773.6 297.0 L775.0 296.0 L776.2 294.9 L777.3 293.8 L778.3 292.6 L779.1 291.4 L779.7 290.3 L780.0 289.3 L780.2 288.5 L780.0 288.0 L779.5 287.7 L778.7 287.5 L777.7 287.5 L776.4 287.7 L775.0 288.0 L773.4 288.5 L771.7 289.2 L770.0 290.0 L768.1 291.2 L765.9 292.7 L763.6 294.5 L761.1 296.4 L758.7 298.4 L756.3 300.2 L754.0 301.8 L752.0 303.0 L750.4 303.9 L749.2 304.6 L748.3 305.1 L747.4 305.4 L746.3 305.7 L744.8 305.8 L742.8 305.9 L740.0 306.0 L736.4 306.0 L732.2 305.9 L727.5 305.6 L722.4 305.3 L717.0 305.0 L711.4 304.6 L705.7 304.3 L700.0 304.0 L694.1 303.8 L687.7 303.6 L681.1 303.4 L674.4 303.2 L667.7 303.0 L661.3 302.8 L655.4 302.4 L650.0 302.0 L645.2 301.5 L640.9 300.8 L636.8 300.1 L633.1 299.4 L629.6 298.6 L626.3 297.7 L623.1 296.9 L620.0 296.0 L617.1 295.0 L614.6 294.0 L612.3 292.8 L610.1 291.6 L607.9 290.5 L605.6 289.5 L603.0 288.6 L600.0 288.0 L596.4 287.6 L592.1 287.4 L587.5 287.4 L582.8 287.5 L578.2 287.6 L574.0 287.8 L570.6 287.9 L568.0 288.0 Z"/><ellipse cx="745" cy="290" rx="14" ry="10" fill="#fbb391"/><ellipse cx="601" cy="305" rx="8" ry="5" fill="#fbc3a0"/><ellipse cx="678" cy="304" rx="9" ry="8" fill="#fba58c"/><rect x="0" y="291" width="2" height="160" fill="#fbcfb4"/><path fill="#c4262e" d="M-4.9 427.5 L-3.7 427.2 L-2.2 426.8 L-0.4 426.4 L1.6 425.9 L3.8 425.4 L6.1 424.8 L8.4 424.3 L10.8 423.7 L13.1 423.2 L15.3 422.7 L17.5 422.3 L19.6 421.8 L21.8 421.3 L24.0 420.8 L26.3 420.4 L28.5 419.9 L30.8 419.5 L33.2 419.1 L35.7 418.8 L38.3 418.5 L41.0 418.2 L43.9 417.9 L46.9 417.6 L49.9 417.3 L53.0 417.1 L56.1 416.9 L59.2 416.8 L62.2 416.7 L65.1 416.8 L67.8 417.0 L70.4 417.3 L72.9 417.8 L75.3 418.4 L77.7 419.1 L80.2 419.8 L82.6 420.6 L85.1 421.4 L87.8 422.2 L90.5 423.0 L93.4 423.7 L96.3 424.3 L99.3 425.0 L102.5 425.7 L105.7 426.4 L108.9 427.0 L112.2 427.7 L115.4 428.2 L118.6 428.7 L121.7 429.2 L124.7 429.5 L127.5 429.7 L130.4 429.9 L133.1 430.0 L135.9 430.0 L138.5 430.0 L141.1 429.9 L143.6 429.7 L146.0 429.5 L148.4 429.3 L150.7 428.9 L153.0 428.5 L155.2 427.9 L157.3 427.2 L159.3 426.5 L161.2 425.7 L162.9 425.0 L164.5 424.3 L165.8 423.7 L166.8 423.3 L167.6 422.9 L164.4 415.1 L163.4 415.5 L162.2 416.1 L160.9 416.8 L159.4 417.5 L157.9 418.2 L156.3 418.9 L154.6 419.6 L152.9 420.2 L151.1 420.7 L149.3 421.1 L147.4 421.3 L145.3 421.6 L143.1 421.7 L140.8 421.8 L138.4 421.9 L135.9 421.9 L133.3 421.9 L130.7 421.8 L128.0 421.7 L125.3 421.5 L122.5 421.3 L119.6 421.0 L116.5 420.6 L113.4 420.2 L110.2 419.8 L107.0 419.3 L103.8 418.8 L100.6 418.3 L97.6 417.8 L94.6 417.3 L91.9 416.8 L89.3 416.2 L86.8 415.6 L84.3 415.0 L81.7 414.3 L79.2 413.7 L76.5 413.1 L73.9 412.6 L71.1 412.2 L68.2 412.0 L65.2 411.9 L62.1 412.0 L59.0 412.1 L55.8 412.3 L52.6 412.6 L49.5 412.9 L46.4 413.3 L43.4 413.7 L40.5 414.1 L37.7 414.5 L35.1 415.0 L32.6 415.5 L30.1 416.0 L27.8 416.6 L25.5 417.2 L23.3 417.8 L21.1 418.4 L18.9 419.1 L16.8 419.7 L14.7 420.3 L12.5 420.9 L10.2 421.6 L7.9 422.3 L5.6 423.0 L3.3 423.8 L1.2 424.5 L-0.7 425.1 L-2.5 425.7 L-4.0 426.1 L-5.1 426.5 Z"/><path fill="#c4262e" d="M151.0 428.4 L151.9 428.1 L153.2 427.9 L154.7 427.6 L156.5 427.2 L158.3 426.8 L160.3 426.3 L162.3 425.8 L164.2 425.3 L166.1 424.7 L167.9 424.1 L169.6 423.3 L171.1 422.4 L172.5 421.5 L173.6 420.6 L174.7 419.8 L175.6 419.1 L176.5 418.6 L177.4 418.1 L178.3 417.7 L179.5 417.3 L180.9 416.9 L182.5 416.6 L184.2 416.3 L186.1 416.0 L188.1 415.8 L190.2 415.6 L192.5 415.4 L194.9 415.3 L197.5 415.1 L200.2 415.0 L203.1 414.9 L206.3 414.8 L209.8 414.8 L213.3 414.7 L217.0 414.7 L220.7 414.8 L224.4 414.8 L228.0 414.9 L231.5 414.9 L234.9 415.0 L238.2 415.1 L241.4 415.1 L244.6 415.2 L247.7 415.3 L250.8 415.4 L253.7 415.5 L256.6 415.6 L259.3 415.9 L261.8 416.1 L264.2 416.4 L266.4 416.8 L268.5 417.2 L270.4 417.7 L272.3 418.2 L274.0 418.8 L275.7 419.4 L277.5 420.0 L279.3 420.8 L281.1 421.5 L283.0 422.3 L284.9 423.2 L286.8 424.1 L288.7 425.1 L290.6 426.2 L292.6 427.3 L294.6 428.5 L296.6 429.7 L298.7 430.8 L300.8 432.0 L303.0 433.0 L305.0 434.0 L306.8 434.9 L308.7 435.8 L310.5 436.8 L312.5 437.7 L314.6 438.6 L316.8 439.5 L319.3 440.4 L321.9 441.3 L324.9 442.1 L328.1 442.9 L331.5 443.7 L335.2 444.6 L339.1 445.4 L343.2 446.2 L347.3 446.9 L351.4 447.6 L355.6 448.1 L359.7 448.6 L363.7 449.0 L367.6 449.2 L371.5 449.4 L375.4 449.4 L379.2 449.3 L383.1 449.2 L386.9 449.0 L390.8 448.8 L394.6 448.6 L398.4 448.3 L402.3 448.0 L406.1 447.6 L409.9 447.2 L413.7 446.7 L417.5 446.2 L421.3 445.6 L425.0 445.0 L428.8 444.5 L432.6 444.0 L436.4 443.6 L440.2 443.2 L444.2 443.0 L448.3 442.7 L452.4 442.5 L456.6 442.3 L460.8 442.2 L465.0 442.1 L469.1 442.1 L473.2 442.1 L477.1 442.1 L480.9 442.2 L484.5 442.4 L488.0 442.7 L491.5 443.0 L494.9 443.4 L498.3 443.8 L501.6 444.3 L504.8 444.8 L508.1 445.3 L511.3 445.7 L514.5 446.2 L517.6 446.7 L520.8 447.3 L523.9 447.9 L526.9 448.6 L530.0 449.3 L533.1 449.9 L536.1 450.5 L539.1 451.0 L542.0 451.3 L544.9 451.5 L547.7 451.5 L550.4 451.4 L552.9 451.1 L555.4 450.7 L557.8 450.3 L560.1 449.8 L562.3 449.3 L564.5 448.7 L566.7 448.2 L568.9 447.6 L571.2 447.1 L573.6 446.4 L576.0 445.7 L578.3 445.0 L580.7 444.3 L582.9 443.5 L585.2 442.7 L587.3 442.0 L589.4 441.2 L591.3 440.5 L593.2 439.8 L594.9 439.1 L596.5 438.4 L598.1 437.7 L599.6 437.0 L601.0 436.3 L602.4 435.6 L603.9 434.9 L605.3 434.1 L606.8 433.3 L608.3 432.4 L609.9 431.5 L611.4 430.6 L612.9 429.7 L614.4 428.7 L615.8 427.8 L617.3 426.8 L618.8 425.9 L620.3 424.9 L621.8 424.0 L623.3 423.0 L624.9 422.1 L626.4 421.0 L627.9 420.1 L629.4 419.1 L630.9 418.1 L632.4 417.2 L634.0 416.3 L635.6 415.5 L637.2 414.8 L638.8 414.1 L640.6 413.4 L642.4 412.7 L644.3 412.1 L646.2 411.5 L648.1 411.0 L650.0 410.5 L651.8 410.0 L653.7 409.6 L655.5 409.2 L657.3 408.8 L659.0 408.5 L660.6 408.2 L662.2 407.9 L663.8 407.7 L665.4 407.5 L667.1 407.4 L668.8 407.4 L670.7 407.4 L672.8 407.5 L675.1 407.6 L677.6 407.8 L680.2 408.1 L682.9 408.3 L685.6 408.7 L688.4 409.1 L691.2 409.7 L693.9 410.3 L696.6 411.1 L699.1 412.1 L701.7 413.2 L704.3 414.6 L706.9 416.2 L709.6 418.0 L712.3 419.8 L714.9 421.7 L717.5 423.6 L720.1 425.4 L722.5 427.1 L724.9 428.7 L727.1 430.1 L729.3 431.5 L731.4 432.8 L733.4 434.0 L735.4 435.3 L737.3 436.4 L739.1 437.5 L740.8 438.6 L742.5 439.6 L744.1 440.5 L745.6 441.4 L747.0 442.1 L748.3 442.9 L749.5 443.5 L750.7 444.2 L751.8 444.7 L753.0 445.3 L754.1 445.7 L755.3 446.2 L756.5 446.5 L757.7 446.9 L758.9 447.2 L760.2 447.5 L761.4 447.8 L762.7 448.0 L764.0 448.1 L765.3 448.1 L766.6 448.0 L768.0 447.8 L769.5 447.3 L770.9 446.7 L772.4 445.9 L773.9 445.0 L775.4 444.0 L776.9 442.9 L778.3 441.7 L779.8 440.5 L781.2 439.2 L782.5 438.0 L783.8 436.8 L784.9 435.6 L786.0 434.3 L787.0 433.1 L788.0 431.8 L788.9 430.5 L789.9 429.1 L790.8 427.8 L791.7 426.4 L792.7 425.0 L793.7 423.5 L794.9 422.0 L796.1 420.2 L797.5 418.4 L798.9 416.5 L800.2 414.6 L801.5 412.8 L802.8 411.1 L803.9 409.6 L804.8 408.3 L805.5 407.4 L804.5 406.6 L803.8 407.6 L802.8 408.8 L801.7 410.3 L800.4 412.0 L799.0 413.7 L797.6 415.6 L796.2 417.4 L794.8 419.2 L793.5 420.9 L792.3 422.5 L791.2 423.9 L790.2 425.3 L789.2 426.7 L788.2 428.0 L787.3 429.3 L786.4 430.6 L785.4 431.8 L784.4 433.0 L783.4 434.1 L782.2 435.2 L781.0 436.3 L779.7 437.5 L778.3 438.7 L776.8 439.8 L775.4 440.9 L773.9 441.9 L772.5 442.8 L771.1 443.6 L769.8 444.2 L768.5 444.7 L767.4 445.0 L766.3 445.1 L765.2 445.2 L764.2 445.1 L763.1 445.0 L762.0 444.8 L760.9 444.5 L759.8 444.2 L758.6 443.8 L757.5 443.5 L756.4 443.1 L755.3 442.7 L754.3 442.3 L753.3 441.8 L752.2 441.2 L751.1 440.6 L750.0 439.9 L748.7 439.2 L747.4 438.4 L745.9 437.5 L744.3 436.5 L742.7 435.5 L741.0 434.5 L739.2 433.3 L737.4 432.1 L735.5 430.9 L733.5 429.5 L731.4 428.2 L729.3 426.8 L727.1 425.3 L724.8 423.8 L722.5 422.1 L720.0 420.2 L717.4 418.3 L714.7 416.3 L712.0 414.4 L709.3 412.5 L706.5 410.8 L703.7 409.2 L700.9 407.9 L698.0 406.8 L695.1 405.9 L692.2 405.1 L689.3 404.5 L686.4 404.0 L683.5 403.6 L680.7 403.2 L678.1 403.0 L675.5 402.7 L673.2 402.5 L670.9 402.3 L668.9 402.3 L666.9 402.3 L665.0 402.3 L663.2 402.5 L661.5 402.7 L659.8 402.9 L658.0 403.2 L656.3 403.5 L654.5 403.8 L652.6 404.2 L650.6 404.6 L648.6 405.0 L646.6 405.5 L644.6 406.0 L642.6 406.6 L640.6 407.2 L638.6 407.8 L636.7 408.5 L634.8 409.2 L633.0 410.0 L631.2 410.8 L629.4 411.7 L627.7 412.6 L626.1 413.5 L624.5 414.4 L622.9 415.3 L621.3 416.2 L619.8 417.1 L618.2 418.0 L616.6 418.9 L615.1 419.8 L613.5 420.7 L612.0 421.6 L610.5 422.5 L609.0 423.4 L607.6 424.3 L606.1 425.1 L604.7 425.9 L603.2 426.7 L601.8 427.5 L600.4 428.2 L599.0 428.9 L597.7 429.6 L596.3 430.2 L594.9 430.9 L593.5 431.5 L592.0 432.2 L590.4 432.8 L588.7 433.5 L586.8 434.2 L584.8 434.9 L582.7 435.6 L580.6 436.4 L578.3 437.1 L576.1 437.8 L573.8 438.5 L571.6 439.2 L569.3 439.8 L567.1 440.4 L564.8 440.9 L562.6 441.5 L560.5 442.1 L558.4 442.7 L556.2 443.2 L554.1 443.6 L552.0 444.0 L549.8 444.3 L547.5 444.5 L545.1 444.5 L542.6 444.4 L540.0 444.1 L537.2 443.8 L534.3 443.3 L531.4 442.7 L528.3 442.1 L525.2 441.5 L522.0 440.9 L518.7 440.3 L515.5 439.8 L512.3 439.3 L509.0 438.9 L505.8 438.4 L502.5 437.9 L499.1 437.4 L495.7 437.0 L492.2 436.6 L488.6 436.2 L484.9 436.0 L481.1 435.8 L477.2 435.6 L473.2 435.6 L469.1 435.6 L464.9 435.6 L460.7 435.7 L456.4 435.9 L452.2 436.1 L447.9 436.3 L443.8 436.5 L439.8 436.8 L435.8 437.1 L431.8 437.5 L428.0 437.9 L424.1 438.5 L420.3 439.0 L416.6 439.5 L412.9 440.0 L409.2 440.4 L405.5 440.7 L401.7 441.0 L398.0 441.2 L394.2 441.4 L390.4 441.5 L386.7 441.7 L382.9 441.7 L379.2 441.7 L375.4 441.7 L371.7 441.5 L368.0 441.3 L364.3 441.0 L360.6 440.6 L356.7 440.1 L352.7 439.5 L348.7 438.8 L344.7 438.0 L340.8 437.2 L337.1 436.4 L333.5 435.6 L330.1 434.7 L327.1 433.9 L324.5 433.1 L322.1 432.3 L320.0 431.5 L318.1 430.7 L316.2 429.8 L314.5 428.9 L312.7 428.0 L310.9 427.0 L309.0 426.0 L307.0 425.0 L305.1 424.0 L303.2 422.9 L301.2 421.7 L299.3 420.6 L297.3 419.4 L295.3 418.2 L293.3 417.0 L291.2 415.8 L289.1 414.7 L287.0 413.7 L284.9 412.8 L283.0 411.9 L281.1 411.1 L279.2 410.3 L277.2 409.5 L275.2 408.8 L273.0 408.2 L270.8 407.6 L268.4 407.0 L265.8 406.6 L263.0 406.2 L260.2 405.9 L257.2 405.6 L254.2 405.5 L251.1 405.3 L248.0 405.2 L244.8 405.2 L241.6 405.1 L238.3 405.1 L235.1 405.0 L231.7 404.9 L228.2 404.9 L224.5 404.8 L220.8 404.8 L217.0 404.8 L213.3 404.7 L209.7 404.8 L206.2 404.8 L202.8 404.9 L199.8 405.0 L197.0 405.1 L194.3 405.3 L191.8 405.4 L189.4 405.6 L187.1 405.8 L184.8 406.0 L182.7 406.3 L180.6 406.7 L178.6 407.2 L176.5 407.7 L174.5 408.5 L172.7 409.4 L171.1 410.4 L169.7 411.4 L168.6 412.4 L167.6 413.3 L166.7 414.1 L165.9 414.8 L165.1 415.4 L164.1 415.9 L162.9 416.5 L161.4 417.2 L159.7 417.8 L157.9 418.5 L156.2 419.2 L154.4 419.8 L152.8 420.3 L151.3 420.8 L150.0 421.3 L149.0 421.6 Z"/><path fill="#c4262e" d="M188.9 406.2 L188.3 405.6 L187.4 404.9 L186.5 404.1 L185.5 403.2 L184.4 402.3 L183.3 401.3 L182.3 400.3 L181.3 399.2 L180.5 398.2 L179.8 397.3 L179.1 396.2 L178.4 395.1 L177.8 394.0 L177.2 392.8 L176.7 391.6 L176.2 390.4 L175.8 389.2 L175.4 388.0 L175.2 386.8 L175.0 385.6 L174.8 384.4 L174.8 383.2 L174.7 381.9 L174.8 380.6 L174.9 379.4 L175.0 378.1 L175.3 376.8 L175.6 375.6 L176.0 374.4 L176.5 373.2 L177.1 372.1 L177.8 370.9 L178.7 369.7 L179.8 368.4 L180.9 367.2 L182.1 365.9 L183.3 364.6 L184.6 363.3 L185.8 362.0 L186.9 360.6 L187.9 359.4 L189.0 358.2 L190.0 357.0 L191.1 355.8 L192.2 354.6 L193.3 353.3 L194.3 352.0 L195.2 350.7 L196.1 349.4 L196.9 348.0 L197.5 346.6 L198.0 345.2 L198.5 343.8 L198.8 342.4 L199.1 341.0 L199.4 339.6 L199.5 338.2 L199.6 336.8 L199.7 335.4 L199.7 334.0 L199.6 332.5 L199.4 331.0 L199.1 329.5 L198.7 328.0 L198.3 326.6 L197.9 325.2 L197.5 323.8 L197.2 322.4 L197.0 321.1 L196.8 319.9 L196.7 318.7 L196.6 317.4 L196.6 316.3 L196.5 315.1 L196.5 313.9 L196.6 312.8 L196.7 311.7 L196.9 310.6 L197.1 309.4 L197.4 308.3 L197.7 307.1 L198.3 305.7 L198.9 304.4 L199.6 302.9 L200.3 301.5 L201.0 300.2 L201.7 299.0 L202.4 297.8 L202.9 296.9 L203.3 296.1 L202.7 295.9 L202.3 296.5 L201.7 297.4 L201.0 298.5 L200.2 299.7 L199.3 301.0 L198.5 302.3 L197.6 303.7 L196.8 305.1 L196.2 306.4 L195.6 307.7 L195.2 309.0 L194.9 310.2 L194.7 311.4 L194.5 312.6 L194.3 313.8 L194.2 315.0 L194.2 316.3 L194.2 317.5 L194.2 318.8 L194.2 320.1 L194.3 321.5 L194.5 322.9 L194.8 324.4 L195.1 325.9 L195.4 327.3 L195.7 328.7 L196.0 330.1 L196.2 331.5 L196.3 332.8 L196.3 334.0 L196.2 335.3 L196.1 336.5 L195.9 337.8 L195.7 339.0 L195.4 340.2 L195.1 341.4 L194.7 342.6 L194.3 343.8 L193.7 344.9 L193.1 346.0 L192.5 347.1 L191.7 348.2 L190.8 349.2 L189.8 350.3 L188.8 351.4 L187.7 352.6 L186.6 353.7 L185.4 354.9 L184.2 356.1 L183.1 357.4 L182.0 358.6 L180.9 359.8 L179.6 361.0 L178.4 362.3 L177.1 363.6 L175.8 364.9 L174.6 366.3 L173.5 367.7 L172.4 369.2 L171.5 370.8 L170.8 372.3 L170.2 373.9 L169.8 375.5 L169.4 377.1 L169.1 378.6 L169.0 380.2 L168.9 381.8 L168.9 383.3 L168.9 384.8 L169.0 386.4 L169.2 387.9 L169.5 389.4 L169.9 391.0 L170.4 392.4 L170.9 393.9 L171.5 395.3 L172.2 396.7 L172.8 398.1 L173.5 399.4 L174.2 400.7 L175.1 402.1 L176.1 403.5 L177.1 404.8 L178.1 406.1 L179.2 407.4 L180.2 408.5 L181.2 409.6 L182.0 410.5 L182.6 411.2 L183.1 411.8 Z"/><path fill="#c4262e" d="M361.4 442.7 L361.5 441.8 L361.6 440.7 L361.7 439.4 L361.7 438.0 L361.8 436.5 L361.9 434.9 L362.1 433.3 L362.3 431.8 L362.5 430.4 L362.8 429.0 L363.2 427.7 L363.7 426.4 L364.1 425.1 L364.7 423.8 L365.2 422.5 L365.9 421.1 L366.5 419.8 L367.2 418.4 L368.0 417.1 L368.8 415.7 L369.6 414.3 L370.6 412.9 L371.7 411.5 L372.8 410.0 L374.0 408.5 L375.2 406.9 L376.4 405.3 L377.6 403.7 L378.7 402.1 L379.6 400.5 L380.4 398.9 L381.2 397.4 L381.8 395.9 L382.5 394.4 L383.0 392.9 L383.5 391.4 L384.0 389.9 L384.3 388.4 L384.6 386.9 L384.9 385.4 L385.0 384.0 L385.2 382.7 L385.3 381.3 L385.3 379.9 L385.3 378.5 L385.1 377.1 L384.9 375.7 L384.6 374.2 L384.1 372.6 L383.6 371.0 L382.8 369.3 L381.9 367.5 L380.9 365.8 L379.8 364.0 L378.6 362.2 L377.4 360.4 L376.2 358.7 L375.1 357.0 L374.1 355.4 L373.2 353.8 L372.3 352.2 L371.4 350.7 L370.6 349.1 L369.8 347.6 L369.0 346.2 L368.2 344.7 L367.6 343.3 L367.0 342.0 L366.5 340.7 L366.0 339.4 L365.7 338.2 L365.4 337.0 L365.1 335.9 L365.0 334.8 L364.8 333.8 L364.8 332.7 L364.8 331.7 L364.8 330.6 L365.0 329.5 L365.2 328.4 L365.4 327.2 L365.8 326.0 L366.2 324.7 L366.7 323.4 L367.3 322.1 L367.9 320.9 L368.5 319.6 L369.2 318.4 L369.9 317.3 L370.5 316.3 L371.2 315.3 L371.9 314.5 L372.7 313.6 L373.5 312.9 L374.3 312.1 L375.1 311.4 L375.9 310.7 L376.8 310.0 L377.7 309.4 L378.5 308.7 L379.4 308.1 L380.3 307.5 L381.3 306.9 L382.3 306.3 L383.3 305.8 L384.2 305.3 L385.1 304.8 L385.9 304.4 L386.6 304.1 L387.1 303.8 L386.9 303.2 L386.3 303.4 L385.6 303.7 L384.8 304.0 L383.8 304.4 L382.8 304.8 L381.7 305.2 L380.6 305.7 L379.5 306.2 L378.5 306.7 L377.5 307.3 L376.6 307.8 L375.7 308.4 L374.7 309.0 L373.8 309.7 L372.9 310.4 L371.9 311.1 L371.0 311.9 L370.1 312.8 L369.3 313.7 L368.5 314.7 L367.7 315.8 L366.9 317.0 L366.1 318.2 L365.3 319.5 L364.6 320.8 L363.9 322.2 L363.3 323.5 L362.7 324.9 L362.2 326.3 L361.8 327.6 L361.5 328.9 L361.3 330.2 L361.2 331.4 L361.1 332.7 L361.0 333.9 L361.1 335.2 L361.2 336.5 L361.4 337.8 L361.7 339.2 L362.0 340.6 L362.4 342.1 L362.9 343.6 L363.5 345.1 L364.1 346.6 L364.8 348.2 L365.6 349.8 L366.4 351.4 L367.2 353.0 L368.0 354.6 L368.8 356.2 L369.7 357.9 L370.8 359.7 L371.9 361.5 L373.0 363.3 L374.2 365.1 L375.2 366.8 L376.3 368.5 L377.1 370.1 L377.9 371.6 L378.4 373.0 L378.8 374.3 L379.2 375.5 L379.4 376.7 L379.5 377.8 L379.6 378.8 L379.6 379.9 L379.6 381.0 L379.5 382.1 L379.3 383.3 L379.1 384.6 L378.9 385.8 L378.6 387.1 L378.3 388.3 L377.9 389.6 L377.5 390.9 L377.0 392.2 L376.4 393.5 L375.8 394.8 L375.1 396.2 L374.4 397.5 L373.6 398.8 L372.6 400.2 L371.6 401.6 L370.4 403.1 L369.2 404.5 L367.9 406.1 L366.7 407.6 L365.4 409.1 L364.3 410.7 L363.2 412.3 L362.3 413.8 L361.5 415.3 L360.7 416.7 L359.9 418.2 L359.2 419.7 L358.5 421.1 L357.9 422.6 L357.3 424.0 L356.7 425.5 L356.2 427.0 L355.6 428.6 L355.1 430.2 L354.7 431.9 L354.2 433.6 L353.9 435.3 L353.5 436.8 L353.2 438.3 L353.0 439.5 L352.7 440.5 L352.6 441.3 Z"/><path fill="#c4262e" d="M502.9 441.3 L502.7 440.3 L502.4 439.0 L502.1 437.5 L501.7 435.8 L501.3 433.9 L500.8 432.0 L500.4 430.0 L500.0 428.1 L499.6 426.2 L499.2 424.4 L498.8 422.7 L498.5 421.0 L498.2 419.3 L497.8 417.5 L497.5 415.8 L497.1 414.1 L496.8 412.4 L496.5 410.8 L496.2 409.1 L496.0 407.5 L495.6 405.8 L495.3 404.2 L494.9 402.7 L494.6 401.2 L494.3 399.7 L494.0 398.4 L493.8 397.1 L493.7 395.8 L493.7 394.6 L493.9 393.5 L494.1 392.5 L494.6 391.3 L495.2 390.0 L496.0 388.7 L496.9 387.3 L497.8 385.8 L498.7 384.4 L499.5 382.8 L500.2 381.2 L500.7 379.6 L500.9 378.1 L501.0 376.7 L501.0 375.3 L500.9 373.9 L500.7 372.6 L500.4 371.3 L500.0 370.1 L499.5 368.9 L499.0 367.7 L498.4 366.6 L497.6 365.4 L496.6 364.4 L495.6 363.4 L494.6 362.5 L493.5 361.6 L492.4 360.9 L491.3 360.1 L490.3 359.4 L489.4 358.8 L488.5 358.1 L487.6 357.5 L486.7 356.8 L485.8 356.2 L484.8 355.5 L484.0 355.0 L483.1 354.4 L482.3 353.9 L481.6 353.4 L480.9 352.9 L480.3 352.5 L479.7 352.0 L479.2 351.6 L478.7 351.2 L478.3 350.8 L477.8 350.4 L477.5 350.0 L477.1 349.6 L476.8 349.3 L476.5 349.0 L476.3 348.8 L473.7 351.2 L473.9 351.4 L474.2 351.7 L474.4 352.1 L474.8 352.5 L475.2 352.9 L475.6 353.4 L476.0 353.9 L476.6 354.4 L477.1 355.0 L477.7 355.5 L478.4 356.1 L479.1 356.7 L479.8 357.3 L480.6 357.9 L481.4 358.5 L482.2 359.2 L483.0 359.8 L483.9 360.5 L484.7 361.2 L485.5 361.9 L486.4 362.6 L487.4 363.4 L488.4 364.2 L489.3 365.0 L490.3 365.7 L491.1 366.5 L491.9 367.3 L492.6 368.0 L493.2 368.7 L493.6 369.4 L494.1 370.2 L494.4 371.1 L494.8 371.9 L495.1 372.8 L495.3 373.7 L495.4 374.6 L495.5 375.5 L495.5 376.5 L495.5 377.4 L495.3 378.4 L495.0 379.3 L494.6 380.3 L493.9 381.5 L493.1 382.8 L492.1 384.2 L491.2 385.7 L490.2 387.2 L489.4 388.9 L488.6 390.6 L488.1 392.5 L487.9 394.3 L487.9 396.0 L488.0 397.7 L488.2 399.3 L488.5 400.9 L488.8 402.4 L489.2 404.0 L489.5 405.5 L489.8 407.0 L490.0 408.5 L490.3 410.1 L490.5 411.8 L490.8 413.5 L491.1 415.2 L491.4 416.9 L491.7 418.7 L492.0 420.4 L492.3 422.1 L492.5 423.9 L492.8 425.6 L493.1 427.4 L493.3 429.3 L493.6 431.2 L493.8 433.2 L494.1 435.2 L494.3 437.1 L494.6 438.8 L494.8 440.4 L494.9 441.7 L495.1 442.7 Z"/><path fill="#9e1f2e" d="M721.4 432.6 L722.0 432.2 L722.8 431.7 L723.6 431.2 L724.6 430.5 L725.7 429.8 L726.8 429.1 L728.0 428.3 L729.2 427.5 L730.4 426.7 L731.6 425.9 L732.9 425.1 L734.2 424.3 L735.6 423.4 L737.0 422.5 L738.5 421.6 L739.9 420.6 L741.4 419.7 L742.9 418.8 L744.3 417.8 L745.6 416.9 L746.9 416.0 L748.2 415.2 L749.4 414.4 L750.6 413.6 L751.9 412.8 L753.1 411.9 L754.3 411.0 L755.5 410.0 L756.7 408.9 L757.8 407.8 L759.0 406.5 L760.2 405.1 L761.4 403.7 L762.6 402.2 L763.8 400.6 L764.9 399.0 L765.9 397.3 L766.8 395.6 L767.5 394.0 L768.1 392.3 L768.4 390.6 L768.5 388.9 L768.4 387.1 L768.2 385.4 L767.9 383.7 L767.6 382.1 L767.1 380.4 L766.7 378.8 L766.3 377.3 L765.9 375.8 L765.4 374.3 L765.0 372.8 L764.4 371.5 L763.8 370.1 L763.2 368.8 L762.6 367.5 L762.1 366.2 L761.5 364.8 L761.0 363.4 L760.6 361.9 L760.3 360.2 L759.9 358.3 L759.6 356.3 L759.4 354.2 L759.1 352.1 L758.9 350.1 L758.7 348.2 L758.5 346.5 L758.4 345.1 L758.2 344.0 L757.8 344.0 L757.8 345.1 L757.9 346.5 L758.0 348.2 L758.1 350.1 L758.3 352.2 L758.4 354.3 L758.6 356.4 L758.8 358.4 L759.1 360.4 L759.4 362.1 L759.7 363.7 L760.2 365.3 L760.7 366.7 L761.2 368.1 L761.8 369.4 L762.3 370.8 L762.9 372.1 L763.3 373.4 L763.8 374.8 L764.1 376.2 L764.5 377.8 L764.9 379.3 L765.3 380.9 L765.6 382.5 L765.9 384.1 L766.2 385.7 L766.3 387.3 L766.3 388.8 L766.2 390.3 L765.9 391.7 L765.5 393.2 L764.8 394.7 L764.0 396.2 L763.0 397.8 L762.0 399.3 L760.8 400.8 L759.7 402.3 L758.5 403.7 L757.3 405.0 L756.2 406.2 L755.1 407.4 L754.0 408.4 L752.9 409.3 L751.8 410.1 L750.6 411.0 L749.4 411.8 L748.2 412.6 L747.0 413.4 L745.7 414.2 L744.4 415.1 L743.1 416.0 L741.7 416.9 L740.2 417.8 L738.8 418.8 L737.3 419.7 L735.8 420.6 L734.4 421.5 L733.0 422.4 L731.6 423.2 L730.4 424.1 L729.2 424.9 L728.0 425.8 L726.8 426.6 L725.7 427.5 L724.6 428.3 L723.6 429.1 L722.7 429.8 L721.8 430.4 L721.1 431.0 L720.6 431.4 Z"/><path fill="#1f1a6e" d="M-4.9 434.7 L-3.2 434.7 L-0.9 434.5 L1.8 434.4 L4.8 434.3 L8.1 434.1 L11.5 433.9 L15.0 433.7 L18.5 433.5 L21.9 433.3 L25.2 433.0 L28.3 432.7 L31.5 432.4 L34.7 432.1 L38.0 431.8 L41.2 431.5 L44.5 431.1 L47.8 430.7 L51.0 430.2 L54.3 429.7 L57.5 429.0 L60.7 428.3 L63.9 427.5 L67.0 426.6 L70.2 425.7 L73.3 424.7 L76.3 423.8 L79.4 422.8 L82.3 421.8 L85.2 420.9 L88.1 420.1 L90.9 419.2 L93.6 418.3 L96.3 417.4 L98.9 416.4 L101.4 415.6 L103.8 414.8 L106.2 414.1 L108.6 413.5 L111.0 413.0 L113.6 412.7 L116.2 412.5 L119.0 412.4 L121.8 412.3 L124.8 412.4 L127.7 412.5 L130.7 412.7 L133.6 413.0 L136.5 413.4 L139.3 413.9 L142.1 414.4 L144.6 415.0 L147.0 415.8 L149.4 416.6 L151.7 417.6 L154.2 418.7 L156.7 419.8 L159.4 421.0 L162.2 422.2 L165.3 423.4 L168.5 424.5 L171.9 425.6 L175.6 426.9 L179.5 428.2 L183.5 429.5 L187.7 430.8 L191.8 432.0 L195.9 433.2 L199.9 434.2 L203.7 435.1 L207.3 435.7 L210.5 436.1 L213.5 436.4 L216.3 436.5 L219.0 436.4 L221.5 436.3 L224.1 436.0 L226.6 435.6 L229.2 435.2 L231.9 434.7 L234.9 434.2 L238.2 433.5 L241.7 432.6 L245.3 431.6 L248.9 430.5 L252.6 429.4 L256.3 428.2 L260.0 427.1 L263.6 426.1 L267.3 425.2 L270.9 424.4 L274.5 423.7 L278.3 423.0 L282.0 422.4 L285.8 421.8 L289.5 421.3 L293.3 420.8 L297.0 420.5 L300.7 420.2 L304.3 420.0 L307.9 420.0 L311.4 420.1 L314.8 420.3 L318.2 420.7 L321.6 421.1 L325.0 421.7 L328.5 422.3 L332.1 423.0 L336.0 423.7 L340.0 424.4 L344.2 425.2 L348.7 426.0 L353.4 426.9 L358.4 427.9 L363.5 428.9 L368.7 429.9 L373.9 431.0 L379.1 432.1 L384.3 433.1 L389.4 434.1 L394.3 434.9 L399.0 435.8 L403.8 436.7 L408.6 437.6 L413.4 438.5 L418.1 439.3 L422.7 440.1 L427.2 440.7 L431.6 441.3 L435.9 441.6 L440.0 441.7 L443.8 441.6 L447.4 441.3 L450.8 440.8 L454.0 440.1 L457.0 439.3 L459.9 438.5 L462.7 437.7 L465.4 436.8 L468.1 436.1 L470.8 435.4 L473.7 434.7 L476.6 433.9 L479.6 433.1 L482.4 432.3 L485.2 431.5 L487.9 430.8 L490.5 430.1 L492.9 429.6 L495.2 429.2 L497.2 429.0 L499.2 428.9 L501.0 429.0 L502.8 429.2 L504.5 429.5 L506.1 429.8 L507.7 430.2 L509.3 430.7 L510.8 431.2 L512.3 431.8 L513.8 432.3 L515.2 432.8 L516.5 433.3 L517.6 433.8 L518.6 434.2 L519.6 434.8 L520.5 435.3 L521.5 436.0 L522.5 436.7 L523.5 437.6 L524.6 438.5 L525.8 439.7 L527.1 441.2 L528.5 442.9 L530.0 444.7 L531.5 446.6 L532.9 448.4 L534.2 450.2 L535.4 451.8 L536.4 453.1 L537.2 454.2 L542.8 449.8 L542.0 448.9 L541.0 447.6 L539.8 446.0 L538.5 444.2 L537.0 442.3 L535.5 440.3 L533.9 438.4 L532.4 436.6 L530.9 434.9 L529.4 433.5 L528.1 432.3 L526.8 431.2 L525.6 430.3 L524.3 429.4 L523.0 428.7 L521.8 428.0 L520.4 427.4 L519.1 426.8 L517.7 426.2 L516.2 425.7 L514.6 425.2 L513.1 424.6 L511.4 424.0 L509.6 423.5 L507.8 423.0 L505.8 422.6 L503.7 422.2 L501.5 422.0 L499.2 421.9 L496.8 422.0 L494.2 422.3 L491.6 422.7 L488.9 423.3 L486.1 424.0 L483.3 424.8 L480.5 425.6 L477.7 426.4 L474.8 427.2 L472.0 427.9 L469.2 428.6 L466.3 429.3 L463.5 430.0 L460.7 430.8 L457.9 431.6 L455.2 432.4 L452.4 433.0 L449.6 433.6 L446.6 434.0 L443.4 434.2 L440.0 434.3 L436.4 434.1 L432.4 433.7 L428.3 433.2 L423.9 432.5 L419.4 431.7 L414.8 430.8 L410.1 429.9 L405.3 428.9 L400.5 428.0 L395.7 427.1 L390.9 426.1 L385.9 425.1 L380.8 424.1 L375.6 423.0 L370.3 421.9 L365.1 420.8 L360.0 419.7 L355.1 418.6 L350.3 417.7 L345.8 416.8 L341.6 416.0 L337.6 415.2 L333.8 414.5 L330.1 413.7 L326.5 413.0 L322.9 412.4 L319.3 411.9 L315.7 411.4 L311.9 411.1 L308.1 411.0 L304.1 411.0 L300.2 411.2 L296.2 411.5 L292.3 411.9 L288.3 412.4 L284.4 412.9 L280.6 413.5 L276.7 414.2 L272.9 414.9 L269.1 415.6 L265.3 416.4 L261.4 417.3 L257.5 418.3 L253.7 419.4 L249.9 420.5 L246.3 421.6 L242.7 422.6 L239.3 423.5 L236.1 424.2 L233.1 424.8 L230.2 425.3 L227.5 425.8 L225.1 426.2 L222.9 426.5 L220.7 426.8 L218.6 426.9 L216.4 427.0 L214.1 426.9 L211.6 426.7 L208.7 426.3 L205.6 425.7 L202.1 425.0 L198.4 424.0 L194.5 422.9 L190.5 421.7 L186.4 420.4 L182.5 419.1 L178.6 417.8 L174.9 416.6 L171.5 415.5 L168.5 414.5 L165.7 413.4 L163.0 412.3 L160.4 411.2 L157.8 410.1 L155.2 409.1 L152.6 408.1 L149.8 407.1 L146.9 406.3 L143.9 405.6 L140.9 405.0 L137.8 404.6 L134.6 404.2 L131.4 403.9 L128.2 403.7 L125.0 403.6 L121.8 403.6 L118.6 403.7 L115.5 403.9 L112.4 404.3 L109.5 404.8 L106.6 405.6 L103.9 406.4 L101.2 407.4 L98.6 408.5 L96.1 409.6 L93.6 410.7 L91.1 411.8 L88.6 412.9 L85.9 413.9 L83.1 415.0 L80.3 416.2 L77.4 417.3 L74.4 418.6 L71.5 419.8 L68.5 420.9 L65.5 422.1 L62.5 423.1 L59.5 424.1 L56.5 425.0 L53.5 425.7 L50.4 426.4 L47.2 427.0 L44.0 427.5 L40.8 428.0 L37.6 428.4 L34.3 428.8 L31.1 429.2 L28.0 429.6 L24.8 430.0 L21.6 430.4 L18.3 430.8 L14.8 431.2 L11.3 431.6 L7.9 431.9 L4.7 432.3 L1.7 432.6 L-1.0 432.8 L-3.3 433.1 L-5.1 433.3 Z"/><path fill="#1f1a6e" d="M86.7 418.2 L87.0 417.6 L87.4 416.7 L88.0 415.6 L88.5 414.3 L89.2 413.0 L89.8 411.5 L90.4 410.0 L91.0 408.5 L91.4 407.0 L91.7 405.5 L91.9 404.1 L92.0 402.8 L92.0 401.5 L92.0 400.2 L91.9 398.9 L91.8 397.5 L91.5 396.2 L91.2 394.9 L90.8 393.5 L90.4 392.2 L89.8 390.8 L89.2 389.4 L88.5 388.0 L87.7 386.5 L86.9 385.1 L86.0 383.6 L85.0 382.2 L84.0 380.9 L82.9 379.5 L81.7 378.3 L80.3 377.1 L78.9 376.0 L77.4 375.1 L75.9 374.2 L74.3 373.3 L72.8 372.5 L71.3 371.7 L69.9 370.9 L68.6 370.1 L67.4 369.2 L66.1 368.3 L64.9 367.3 L63.7 366.4 L62.5 365.4 L61.4 364.5 L60.4 363.5 L59.4 362.5 L58.4 361.4 L57.5 360.3 L56.7 359.0 L56.0 357.6 L55.2 356.0 L54.5 354.3 L53.8 352.5 L53.2 350.6 L52.7 348.8 L52.2 346.9 L51.8 345.1 L51.5 343.4 L51.2 341.8 L51.1 340.4 L51.1 339.0 L51.3 337.6 L51.4 336.2 L51.7 334.9 L52.0 333.5 L52.3 332.2 L52.7 330.9 L53.0 329.6 L53.3 328.4 L53.7 327.4 L54.1 326.4 L54.6 325.4 L55.2 324.4 L55.7 323.4 L56.3 322.4 L56.8 321.4 L57.1 320.2 L57.2 319.0 L57.0 317.8 L56.5 316.6 L55.9 315.4 L55.1 314.2 L54.2 313.1 L53.1 312.0 L52.0 310.9 L50.9 309.8 L49.7 308.7 L48.5 307.6 L47.4 306.6 L46.1 305.5 L44.7 304.4 L43.3 303.3 L41.7 302.1 L40.2 301.0 L38.7 300.0 L37.3 299.0 L36.0 298.1 L34.9 297.4 L34.1 296.8 L33.9 297.2 L34.6 297.8 L35.7 298.6 L36.9 299.5 L38.3 300.5 L39.7 301.6 L41.2 302.8 L42.7 304.0 L44.1 305.1 L45.5 306.3 L46.6 307.4 L47.7 308.5 L48.8 309.6 L49.9 310.7 L51.0 311.9 L52.0 313.0 L52.9 314.1 L53.7 315.2 L54.3 316.3 L54.8 317.3 L55.0 318.2 L55.1 319.0 L54.9 319.8 L54.7 320.5 L54.2 321.3 L53.7 322.2 L53.1 323.1 L52.4 324.1 L51.7 325.1 L51.1 326.3 L50.7 327.6 L50.3 328.8 L49.9 330.1 L49.4 331.4 L49.0 332.7 L48.6 334.1 L48.3 335.6 L48.0 337.2 L47.8 338.8 L47.7 340.4 L47.8 342.2 L47.9 343.9 L48.2 345.8 L48.6 347.7 L49.1 349.7 L49.6 351.7 L50.2 353.7 L50.9 355.7 L51.6 357.6 L52.4 359.3 L53.3 361.0 L54.2 362.5 L55.2 363.9 L56.2 365.3 L57.4 366.5 L58.5 367.6 L59.7 368.7 L60.9 369.8 L62.1 370.8 L63.4 371.8 L64.6 372.8 L66.0 373.8 L67.5 374.8 L69.0 375.7 L70.6 376.6 L72.1 377.4 L73.5 378.2 L74.9 379.1 L76.2 379.9 L77.3 380.8 L78.3 381.7 L79.3 382.7 L80.2 383.9 L81.1 385.1 L81.9 386.3 L82.7 387.6 L83.4 388.9 L84.1 390.1 L84.7 391.4 L85.2 392.7 L85.6 393.8 L86.0 395.0 L86.3 396.1 L86.5 397.1 L86.6 398.2 L86.7 399.3 L86.7 400.3 L86.7 401.4 L86.6 402.4 L86.5 403.5 L86.3 404.5 L86.0 405.5 L85.7 406.7 L85.2 407.9 L84.6 409.2 L83.9 410.5 L83.3 411.8 L82.7 413.0 L82.1 414.0 L81.6 415.0 L81.3 415.8 Z"/><path fill="#1f1a6e" d="M574.9 457.4 L575.4 456.4 L576.0 455.1 L576.7 453.7 L577.5 452.0 L578.3 450.2 L579.2 448.4 L580.1 446.6 L581.0 444.8 L581.9 443.2 L582.8 441.7 L583.6 440.3 L584.5 438.9 L585.4 437.6 L586.3 436.3 L587.2 435.1 L588.1 433.9 L589.0 432.7 L590.0 431.6 L591.1 430.5 L592.2 429.4 L593.4 428.3 L594.8 427.1 L596.2 426.0 L597.6 424.9 L599.1 423.8 L600.5 422.8 L602.0 421.9 L603.4 421.2 L604.7 420.6 L606.0 420.1 L607.2 419.8 L608.3 419.6 L609.5 419.4 L610.7 419.4 L611.9 419.5 L613.2 419.6 L614.5 419.8 L615.9 420.2 L617.5 420.5 L619.1 421.0 L620.8 421.5 L622.5 422.2 L624.4 422.9 L626.3 423.8 L628.3 424.8 L630.4 425.8 L632.5 426.8 L634.6 427.9 L636.7 428.8 L638.8 429.7 L640.8 430.6 L642.9 431.5 L645.0 432.4 L647.1 433.3 L649.2 434.2 L651.3 435.0 L653.4 435.8 L655.4 436.5 L657.4 437.1 L659.3 437.7 L661.1 438.1 L662.8 438.4 L664.4 438.7 L666.0 438.9 L667.5 439.0 L669.0 439.0 L670.6 439.0 L672.1 438.9 L673.7 438.7 L675.4 438.5 L677.1 438.1 L678.9 437.7 L680.7 437.2 L682.4 436.6 L684.2 436.0 L686.0 435.3 L687.8 434.5 L689.6 433.7 L691.3 432.9 L693.1 432.0 L694.8 431.0 L696.5 429.9 L698.2 428.7 L699.8 427.5 L701.5 426.2 L703.1 425.0 L704.6 423.8 L706.1 422.7 L707.6 421.6 L709.0 420.7 L710.5 419.8 L711.9 419.0 L713.3 418.2 L714.7 417.4 L716.0 416.7 L717.3 416.1 L718.6 415.5 L719.9 415.0 L721.2 414.6 L722.4 414.3 L723.6 414.0 L724.9 413.8 L726.0 413.6 L727.2 413.6 L728.4 413.5 L729.5 413.6 L730.7 413.7 L732.0 413.9 L733.2 414.2 L734.5 414.5 L735.8 415.0 L737.2 415.5 L738.6 416.2 L740.1 417.0 L741.6 417.8 L743.1 418.7 L744.7 419.6 L746.2 420.5 L747.8 421.4 L749.3 422.2 L750.8 423.0 L752.3 423.8 L753.8 424.7 L755.4 425.5 L756.9 426.4 L758.4 427.2 L760.0 428.0 L761.5 428.8 L763.1 429.4 L764.6 430.0 L766.1 430.5 L767.5 431.0 L768.9 431.4 L770.3 431.8 L771.7 432.2 L773.1 432.4 L774.6 432.7 L776.3 432.8 L778.1 432.9 L780.0 432.8 L782.3 432.7 L784.8 432.5 L787.7 432.1 L790.6 431.6 L793.6 431.1 L796.4 430.6 L799.1 430.1 L801.5 429.7 L803.6 429.3 L805.1 429.1 L804.9 427.9 L803.4 428.1 L801.3 428.5 L798.9 428.9 L796.2 429.3 L793.3 429.7 L790.4 430.2 L787.5 430.6 L784.7 430.9 L782.1 431.1 L780.0 431.2 L778.1 431.1 L776.4 431.0 L774.9 430.8 L773.4 430.6 L772.1 430.3 L770.8 429.9 L769.5 429.5 L768.2 429.0 L766.8 428.5 L765.4 428.0 L763.9 427.4 L762.5 426.7 L761.0 425.9 L759.6 425.1 L758.1 424.2 L756.6 423.3 L755.2 422.4 L753.7 421.5 L752.2 420.6 L750.7 419.8 L749.2 418.9 L747.7 418.0 L746.2 417.1 L744.7 416.2 L743.1 415.2 L741.6 414.3 L740.1 413.5 L738.5 412.7 L737.0 412.0 L735.5 411.5 L734.0 411.0 L732.6 410.7 L731.2 410.4 L729.9 410.3 L728.5 410.1 L727.1 410.1 L725.8 410.2 L724.4 410.3 L723.0 410.5 L721.6 410.7 L720.1 411.1 L718.7 411.5 L717.2 412.1 L715.8 412.7 L714.4 413.3 L712.9 414.0 L711.4 414.8 L710.0 415.6 L708.5 416.4 L707.0 417.3 L705.4 418.2 L703.8 419.3 L702.1 420.5 L700.5 421.6 L698.9 422.8 L697.3 424.0 L695.7 425.1 L694.1 426.2 L692.5 427.2 L690.9 428.0 L689.3 428.8 L687.7 429.5 L686.0 430.2 L684.3 430.9 L682.6 431.5 L681.0 432.1 L679.3 432.5 L677.7 433.0 L676.1 433.3 L674.6 433.5 L673.1 433.7 L671.8 433.8 L670.4 433.9 L669.2 433.8 L667.9 433.8 L666.6 433.6 L665.2 433.4 L663.8 433.1 L662.3 432.8 L660.7 432.3 L659.0 431.8 L657.2 431.2 L655.4 430.5 L653.4 429.7 L651.4 428.8 L649.4 427.9 L647.3 427.0 L645.3 426.1 L643.2 425.1 L641.2 424.3 L639.2 423.4 L637.2 422.4 L635.2 421.4 L633.1 420.4 L631.0 419.3 L629.0 418.3 L626.9 417.3 L624.8 416.5 L622.8 415.7 L620.9 415.0 L619.1 414.5 L617.4 414.1 L615.8 413.7 L614.1 413.4 L612.5 413.1 L610.8 413.0 L609.2 413.0 L607.5 413.2 L605.8 413.5 L604.0 413.9 L602.3 414.5 L600.5 415.3 L598.7 416.3 L597.0 417.3 L595.3 418.5 L593.7 419.7 L592.1 420.9 L590.6 422.1 L589.1 423.4 L587.8 424.6 L586.5 425.9 L585.3 427.2 L584.1 428.5 L583.0 429.8 L582.0 431.2 L581.0 432.6 L580.0 434.0 L579.1 435.4 L578.1 436.8 L577.2 438.3 L576.3 439.9 L575.3 441.7 L574.3 443.6 L573.4 445.5 L572.4 447.4 L571.6 449.2 L570.8 450.9 L570.1 452.4 L569.5 453.6 L569.1 454.6 Z"/><path fill="#1f1a6e" d="M605.5 414.4 L604.8 414.0 L603.9 413.6 L602.9 413.2 L601.9 412.7 L600.8 412.2 L599.6 411.6 L598.5 411.0 L597.4 410.4 L596.5 409.8 L595.7 409.2 L594.9 408.4 L594.1 407.7 L593.3 406.8 L592.5 406.0 L591.8 405.1 L591.1 404.2 L590.5 403.2 L589.9 402.3 L589.4 401.3 L589.0 400.3 L588.6 399.3 L588.3 398.2 L588.1 397.0 L587.9 395.8 L587.7 394.6 L587.6 393.4 L587.6 392.1 L587.7 390.8 L587.7 389.6 L587.9 388.3 L588.1 387.1 L588.4 385.8 L588.8 384.5 L589.3 383.1 L589.8 381.7 L590.4 380.3 L590.9 378.9 L591.5 377.5 L592.1 376.0 L592.6 374.6 L593.1 373.2 L593.6 371.7 L594.1 370.3 L594.6 368.9 L595.1 367.4 L595.6 366.0 L596.1 364.5 L596.5 363.1 L596.9 361.7 L597.3 360.3 L597.6 359.0 L597.8 357.7 L598.1 356.5 L598.3 355.2 L598.5 354.0 L598.6 352.8 L598.7 351.6 L598.8 350.4 L598.9 349.2 L598.9 348.0 L598.9 346.9 L598.8 345.7 L598.7 344.5 L598.6 343.4 L598.5 342.3 L598.3 341.2 L598.1 340.1 L597.9 339.0 L597.7 338.0 L597.5 336.9 L597.3 335.8 L597.1 334.7 L596.8 333.5 L596.6 332.4 L596.3 331.2 L596.0 330.2 L595.8 329.2 L595.5 328.3 L595.3 327.5 L595.2 327.0 L594.8 327.0 L594.9 327.6 L595.0 328.4 L595.2 329.3 L595.4 330.3 L595.6 331.4 L595.8 332.5 L596.0 333.7 L596.2 334.9 L596.3 336.0 L596.5 337.1 L596.6 338.1 L596.7 339.2 L596.8 340.3 L596.9 341.4 L597.0 342.5 L597.1 343.5 L597.2 344.6 L597.2 345.7 L597.2 346.9 L597.1 348.0 L597.0 349.1 L596.9 350.2 L596.7 351.3 L596.5 352.5 L596.3 353.6 L596.0 354.8 L595.8 356.0 L595.5 357.2 L595.1 358.4 L594.7 359.7 L594.3 360.9 L593.9 362.2 L593.4 363.6 L592.8 365.0 L592.3 366.3 L591.7 367.7 L591.1 369.2 L590.5 370.6 L589.9 372.0 L589.4 373.4 L588.9 374.8 L588.3 376.1 L587.7 377.5 L587.1 379.0 L586.4 380.4 L585.9 381.8 L585.3 383.3 L584.8 384.7 L584.4 386.2 L584.1 387.7 L583.9 389.2 L583.8 390.6 L583.7 392.0 L583.7 393.5 L583.8 394.9 L583.9 396.3 L584.1 397.7 L584.3 399.1 L584.6 400.4 L585.0 401.7 L585.5 403.0 L586.0 404.2 L586.7 405.5 L587.4 406.6 L588.1 407.8 L588.9 408.9 L589.7 409.9 L590.5 410.9 L591.4 411.9 L592.3 412.8 L593.3 413.8 L594.5 414.7 L595.7 415.5 L596.9 416.3 L598.1 417.1 L599.3 417.7 L600.3 418.3 L601.3 418.9 L602.0 419.3 L602.5 419.6 Z"/><circle cx="149.8" cy="259.9" r="5.8" fill="url(#gb)"/><circle cx="106.2" cy="263.0" r="6.3" fill="url(#gb)"/><circle cx="121.6" cy="259.9" r="5.3" fill="url(#gb)"/><circle cx="129.8" cy="264.6" r="5.1" fill="url(#gb)"/><circle cx="72.9" cy="265.1" r="5.6" fill="url(#gb)"/><circle cx="124.3" cy="265.6" r="4.4" fill="url(#gb)"/><circle cx="120.4" cy="246.0" r="4.6" fill="url(#gb)"/><circle cx="66.3" cy="256.2" r="7.0" fill="url(#gb)"/><circle cx="97.8" cy="252.5" r="5.8" fill="url(#gb)"/><circle cx="84.3" cy="262.6" r="5.6" fill="url(#gb)"/><circle cx="49.9" cy="264.7" r="4.6" fill="url(#gb)"/><circle cx="140.1" cy="255.9" r="6.2" fill="url(#gb)"/><circle cx="134.2" cy="248.6" r="5.2" fill="url(#gb)"/><circle cx="108.5" cy="251.2" r="6.5" fill="url(#gb)"/><circle cx="95.1" cy="257.9" r="4.6" fill="url(#gb)"/><circle cx="129.1" cy="259.5" r="4.7" fill="url(#gb)"/><circle cx="105.5" cy="257.0" r="5.0" fill="url(#gb)"/><circle cx="140.4" cy="266.2" r="5.5" fill="url(#gb)"/><circle cx="56.3" cy="257.1" r="6.1" fill="url(#gb)"/><circle cx="116.7" cy="264.5" r="7.1" fill="url(#gb)"/><circle cx="98.2" cy="264.2" r="5.2" fill="url(#gb)"/><circle cx="128.9" cy="248.3" r="5.1" fill="url(#gb)"/><circle cx="119.8" cy="251.8" r="4.9" fill="url(#gb)"/><circle cx="157.7" cy="260.6" r="5.9" fill="url(#gb)"/><circle cx="91.7" cy="262.8" r="4.6" fill="url(#gb)"/><circle cx="135.2" cy="263.0" r="4.8" fill="url(#gb)"/><circle cx="85.3" cy="256.9" r="5.0" fill="url(#gb)"/><circle cx="81.3" cy="248.4" r="6.2" fill="url(#gb)"/><circle cx="116.1" cy="256.5" r="5.8" fill="url(#gb)"/><circle cx="100.5" cy="246.5" r="4.5" fill="url(#gb)"/><circle cx="111.2" cy="245.3" r="5.3" fill="url(#gb)"/><circle cx="46.8" cy="260.7" r="4.6" fill="url(#gb)"/><circle cx="74.6" cy="257.6" r="5.2" fill="url(#gb)"/><circle cx="55.9" cy="263.9" r="5.4" fill="url(#gb)"/><circle cx="66.0" cy="263.9" r="6.5" fill="url(#gb)"/><circle cx="71.1" cy="249.9" r="4.4" fill="url(#gb)"/><circle cx="90.8" cy="248.9" r="7.1" fill="url(#gb)"/><circle cx="152.9" cy="265.0" r="4.9" fill="url(#gb)"/><circle cx="149.5" cy="254.6" r="4.6" fill="url(#gb)"/><circle cx="170.9" cy="263.0" r="4.8" fill="url(#gb)"/><circle cx="100.5" cy="259.6" r="4.6" fill="url(#gb)"/><circle cx="127.3" cy="254.1" r="5.3" fill="url(#gb)"/><circle cx="164.2" cy="262.5" r="6.0" fill="url(#gb)"/><circle cx="134.0" cy="254.5" r="6.2" fill="url(#gb)"/><circle cx="146.4" cy="266.0" r="4.6" fill="url(#gb)"/><circle cx="80.4" cy="258.6" r="4.4" fill="url(#gb)"/><circle cx="60.8" cy="253.4" r="4.6" fill="url(#gb)"/><circle cx="79.1" cy="265.7" r="6.0" fill="url(#gb)"/><circle cx="105.4" cy="244.7" r="5.0" fill="url(#gb)"/><circle cx="78.9" cy="253.6" r="4.4" fill="url(#gb)"/><circle cx="90.6" cy="256.0" r="4.6" fill="url(#gb)"/><circle cx="144.4" cy="261.4" r="4.8" fill="url(#gb)"/><circle cx="111.1" cy="259.9" r="4.9" fill="url(#gb)"/><circle cx="87.0" cy="267.3" r="4.4" fill="url(#gb)"/><circle cx="61.2" cy="260.3" r="4.7" fill="url(#gb)"/><circle cx="114.6" cy="250.2" r="4.8" fill="url(#gb)"/><circle cx="158.0" cy="266.3" r="4.6" fill="url(#gb)"/><circle cx="95.6" cy="244.5" r="4.6" fill="url(#gb)"/><circle cx="43.1" cy="263.9" r="4.4" fill="url(#gb)"/><circle cx="110.4" cy="266.7" r="4.5" fill="url(#gb)"/><circle cx="142.9" cy="251.1" r="4.5" fill="url(#gb)"/><circle cx="153.8" cy="256.4" r="4.5" fill="url(#gb)"/><circle cx="60.7" cy="266.6" r="4.6" fill="url(#gb)"/><circle cx="50.7" cy="257.3" r="4.7" fill="url(#gb)"/><circle cx="116.3" cy="243.8" r="4.4" fill="url(#gb)"/><circle cx="93.2" cy="267.1" r="4.5" fill="url(#gb)"/><circle cx="125.1" cy="245.3" r="4.5" fill="url(#gb)"/><circle cx="75.9" cy="248.6" r="4.4" fill="url(#gb)"/><circle cx="102.7" cy="267.2" r="4.6" fill="url(#gb)"/><circle cx="103.0" cy="252.4" r="4.4" fill="url(#gb)"/><circle cx="45.5" cy="262.0" r="6.8" fill="url(#gb)"/><circle cx="310.6" cy="225.2" r="6.0" fill="url(#gb)"/><circle cx="235.0" cy="265.8" r="6.7" fill="url(#gb)"/><circle cx="349.9" cy="282.1" r="7.1" fill="url(#gb)"/><circle cx="341.3" cy="296.2" r="5.7" fill="url(#gb)"/><circle cx="235.1" cy="299.8" r="6.3" fill="url(#gb)"/><circle cx="240.8" cy="250.7" r="5.9" fill="url(#gb)"/><circle cx="294.6" cy="334.3" r="6.7" fill="url(#gb)"/><circle cx="259.5" cy="270.1" r="5.6" fill="url(#gb)"/><circle cx="283.9" cy="341.1" r="6.1" fill="url(#gb)"/><circle cx="348.5" cy="266.4" r="6.4" fill="url(#gb)"/><circle cx="265.3" cy="335.3" r="6.1" fill="url(#gb)"/><circle cx="320.0" cy="333.2" r="6.9" fill="url(#gb)"/><circle cx="332.4" cy="275.3" r="7.1" fill="url(#gb)"/><circle cx="271.1" cy="334.0" r="6.9" fill="url(#gb)"/><circle cx="312.3" cy="284.8" r="7.5" fill="url(#gb)"/><circle cx="301.0" cy="253.7" r="7.0" fill="url(#gb)"/><circle cx="324.9" cy="326.8" r="7.2" fill="url(#gb)"/><circle cx="252.2" cy="325.7" r="6.7" fill="url(#gb)"/><circle cx="237.6" cy="260.8" r="5.6" fill="url(#gb)"/><circle cx="335.3" cy="300.1" r="7.3" fill="url(#gb)"/><circle cx="347.0" cy="300.4" r="6.1" fill="url(#gb)"/><circle cx="262.4" cy="294.0" r="7.0" fill="url(#gb)"/><circle cx="341.9" cy="251.1" r="5.7" fill="url(#gb)"/><circle cx="308.3" cy="268.1" r="6.5" fill="url(#gb)"/><circle cx="269.8" cy="299.8" r="5.8" fill="url(#gb)"/><circle cx="254.2" cy="293.3" r="6.2" fill="url(#gb)"/><circle cx="308.1" cy="327.1" r="7.4" fill="url(#gb)"/><circle cx="324.0" cy="268.0" r="5.7" fill="url(#gb)"/><circle cx="343.4" cy="256.8" r="6.0" fill="url(#gb)"/><circle cx="342.3" cy="250.8" r="5.9" fill="url(#gb)"/><circle cx="312.1" cy="334.8" r="7.2" fill="url(#gb)"/><circle cx="263.0" cy="264.1" r="6.0" fill="url(#gb)"/><circle cx="288.7" cy="269.1" r="6.6" fill="url(#gb)"/><circle cx="259.0" cy="331.1" r="6.6" fill="url(#gb)"/><circle cx="242.9" cy="268.2" r="6.0" fill="url(#gb)"/><circle cx="265.3" cy="270.2" r="6.0" fill="url(#gb)"/><circle cx="302.1" cy="245.7" r="7.0" fill="url(#gb)"/><circle cx="317.5" cy="229.6" r="7.0" fill="url(#gb)"/><circle cx="302.3" cy="274.8" r="6.8" fill="url(#gb)"/><circle cx="258.1" cy="239.8" r="6.5" fill="url(#gb)"/><circle cx="294.1" cy="277.7" r="7.4" fill="url(#gb)"/><circle cx="278.8" cy="231.0" r="5.8" fill="url(#gb)"/><circle cx="256.8" cy="232.8" r="5.7" fill="url(#gb)"/><circle cx="348.8" cy="280.7" r="7.0" fill="url(#gb)"/><circle cx="330.7" cy="237.5" r="6.2" fill="url(#gb)"/><circle cx="302.0" cy="237.0" r="6.0" fill="url(#gb)"/><circle cx="339.3" cy="278.1" r="7.4" fill="url(#gb)"/><circle cx="282.6" cy="323.5" r="5.9" fill="url(#gb)"/><circle cx="339.1" cy="245.3" r="5.7" fill="url(#gb)"/><circle cx="236.9" cy="257.8" r="5.7" fill="url(#gb)"/><circle cx="317.4" cy="227.7" r="5.6" fill="url(#gb)"/><circle cx="319.3" cy="244.7" r="7.2" fill="url(#gb)"/><circle cx="308.6" cy="277.4" r="6.0" fill="url(#gb)"/><circle cx="266.3" cy="283.6" r="6.7" fill="url(#gb)"/><circle cx="320.0" cy="309.9" r="5.9" fill="url(#gb)"/><circle cx="325.5" cy="317.9" r="7.1" fill="url(#gb)"/><circle cx="255.2" cy="265.5" r="5.9" fill="url(#gb)"/><circle cx="251.3" cy="242.2" r="6.3" fill="url(#gb)"/><circle cx="287.1" cy="222.4" r="5.8" fill="url(#gb)"/><circle cx="322.5" cy="284.1" r="6.5" fill="url(#gb)"/><circle cx="295.0" cy="230.8" r="7.5" fill="url(#gb)"/><circle cx="250.3" cy="260.2" r="6.3" fill="url(#gb)"/><circle cx="318.3" cy="277.0" r="6.9" fill="url(#gb)"/><circle cx="249.9" cy="271.8" r="7.1" fill="url(#gb)"/><circle cx="318.9" cy="294.7" r="6.9" fill="url(#gb)"/><circle cx="308.1" cy="305.7" r="6.4" fill="url(#gb)"/><circle cx="303.9" cy="339.0" r="7.1" fill="url(#gb)"/><circle cx="284.5" cy="306.9" r="5.9" fill="url(#gb)"/><circle cx="308.0" cy="240.9" r="6.8" fill="url(#gb)"/><circle cx="244.1" cy="247.9" r="6.3" fill="url(#gb)"/><circle cx="249.1" cy="315.1" r="7.1" fill="url(#gb)"/><circle cx="302.9" cy="336.8" r="7.3" fill="url(#gb)"/><circle cx="345.6" cy="292.1" r="5.9" fill="url(#gb)"/><circle cx="295.5" cy="223.8" r="7.2" fill="url(#gb)"/><circle cx="274.8" cy="321.6" r="6.4" fill="url(#gb)"/><circle cx="287.2" cy="313.0" r="5.9" fill="url(#gb)"/><circle cx="327.8" cy="251.2" r="6.2" fill="url(#gb)"/><circle cx="277.2" cy="248.8" r="6.4" fill="url(#gb)"/><circle cx="281.2" cy="301.1" r="6.2" fill="url(#gb)"/><circle cx="288.8" cy="337.7" r="5.7" fill="url(#gb)"/><circle cx="297.1" cy="270.5" r="6.8" fill="url(#gb)"/><circle cx="258.5" cy="329.2" r="5.9" fill="url(#gb)"/><circle cx="336.3" cy="254.3" r="5.8" fill="url(#gb)"/><circle cx="351.0" cy="289.7" r="6.0" fill="url(#gb)"/><circle cx="334.5" cy="319.6" r="5.8" fill="url(#gb)"/><circle cx="243.0" cy="258.3" r="6.0" fill="url(#gb)"/><circle cx="276.7" cy="224.7" r="6.4" fill="url(#gb)"/><circle cx="288.9" cy="293.7" r="6.1" fill="url(#gb)"/><circle cx="297.4" cy="241.5" r="5.7" fill="url(#gb)"/><circle cx="257.0" cy="233.4" r="5.9" fill="url(#gb)"/><circle cx="288.0" cy="340.3" r="7.1" fill="url(#gb)"/><circle cx="286.0" cy="276.2" r="6.6" fill="url(#gb)"/><circle cx="338.3" cy="246.1" r="6.5" fill="url(#gb)"/><circle cx="265.0" cy="252.5" r="6.3" fill="url(#gb)"/><circle cx="280.7" cy="254.6" r="7.0" fill="url(#gb)"/><circle cx="262.9" cy="278.1" r="6.1" fill="url(#gb)"/><circle cx="298.7" cy="327.4" r="6.4" fill="url(#gb)"/><circle cx="260.0" cy="322.9" r="6.3" fill="url(#gb)"/><circle cx="251.7" cy="325.2" r="6.3" fill="url(#gb)"/><circle cx="246.8" cy="306.4" r="5.7" fill="url(#gb)"/><circle cx="285.6" cy="233.9" r="5.6" fill="url(#gb)"/><circle cx="307.2" cy="231.1" r="7.3" fill="url(#gb)"/><circle cx="244.8" cy="317.8" r="6.7" fill="url(#gb)"/><circle cx="233.7" cy="280.8" r="5.8" fill="url(#gb)"/><circle cx="336.5" cy="267.7" r="6.4" fill="url(#gb)"/><circle cx="321.7" cy="303.8" r="5.9" fill="url(#gb)"/><circle cx="337.6" cy="318.4" r="6.8" fill="url(#gb)"/><circle cx="287.6" cy="257.0" r="5.6" fill="url(#gb)"/><circle cx="331.6" cy="241.5" r="5.9" fill="url(#gb)"/><circle cx="245.7" cy="320.7" r="6.0" fill="url(#gb)"/><circle cx="345.8" cy="305.8" r="6.2" fill="url(#gb)"/><circle cx="285.3" cy="288.4" r="5.7" fill="url(#gb)"/><circle cx="233.1" cy="274.0" r="6.5" fill="url(#gb)"/><circle cx="294.0" cy="341.4" r="6.2" fill="url(#gb)"/><circle cx="339.9" cy="315.8" r="5.6" fill="url(#gb)"/><circle cx="305.1" cy="299.6" r="6.2" fill="url(#gb)"/><circle cx="256.1" cy="315.5" r="5.9" fill="url(#gb)"/><circle cx="325.8" cy="330.3" r="6.3" fill="url(#gb)"/><circle cx="280.8" cy="340.7" r="5.8" fill="url(#gb)"/><circle cx="333.3" cy="247.6" r="6.4" fill="url(#gb)"/><circle cx="296.1" cy="261.9" r="5.7" fill="url(#gb)"/><circle cx="286.2" cy="318.9" r="5.7" fill="url(#gb)"/><circle cx="249.0" cy="298.6" r="6.0" fill="url(#gb)"/><circle cx="314.2" cy="233.3" r="6.3" fill="url(#gb)"/><circle cx="302.9" cy="293.7" r="6.0" fill="url(#gb)"/><circle cx="266.8" cy="240.7" r="5.8" fill="url(#gb)"/><circle cx="249.8" cy="285.9" r="7.1" fill="url(#gb)"/><circle cx="320.2" cy="333.9" r="6.2" fill="url(#gb)"/><circle cx="264.8" cy="230.1" r="7.1" fill="url(#gb)"/><circle cx="303.7" cy="261.2" r="7.6" fill="url(#gb)"/><circle cx="281.4" cy="261.6" r="5.8" fill="url(#gb)"/><circle cx="304.9" cy="313.5" r="6.7" fill="url(#gb)"/><circle cx="327.7" cy="280.3" r="5.8" fill="url(#gb)"/><circle cx="271.1" cy="226.6" r="6.4" fill="url(#gb)"/><circle cx="315.1" cy="328.5" r="6.0" fill="url(#gb)"/><circle cx="295.6" cy="320.6" r="7.1" fill="url(#gb)"/><circle cx="234.4" cy="266.1" r="5.7" fill="url(#gb)"/><circle cx="245.7" cy="292.6" r="7.2" fill="url(#gb)"/><circle cx="325.3" cy="274.3" r="6.5" fill="url(#gb)"/><circle cx="279.4" cy="317.5" r="5.8" fill="url(#gb)"/><circle cx="272.9" cy="287.8" r="6.9" fill="url(#gb)"/><circle cx="235.0" cy="297.6" r="6.9" fill="url(#gb)"/><circle cx="338.7" cy="289.3" r="5.8" fill="url(#gb)"/><circle cx="312.5" cy="245.8" r="5.9" fill="url(#gb)"/><circle cx="294.3" cy="247.7" r="7.2" fill="url(#gb)"/><circle cx="268.7" cy="247.6" r="5.8" fill="url(#gb)"/><circle cx="241.4" cy="302.4" r="6.2" fill="url(#gb)"/><circle cx="267.2" cy="323.7" r="7.2" fill="url(#gb)"/><circle cx="307.9" cy="251.5" r="7.3" fill="url(#gb)"/><circle cx="254.4" cy="251.6" r="6.2" fill="url(#gb)"/><circle cx="239.5" cy="251.9" r="5.7" fill="url(#gb)"/><circle cx="331.9" cy="324.1" r="7.1" fill="url(#gb)"/><circle cx="251.3" cy="238.7" r="6.4" fill="url(#gb)"/><circle cx="291.5" cy="299.4" r="5.9" fill="url(#gb)"/><circle cx="342.2" cy="312.9" r="6.1" fill="url(#gb)"/><circle cx="236.7" cy="304.7" r="6.2" fill="url(#gb)"/><circle cx="273.0" cy="314.8" r="6.7" fill="url(#gb)"/><circle cx="280.3" cy="236.8" r="5.7" fill="url(#gb)"/><circle cx="263.9" cy="334.3" r="6.0" fill="url(#gb)"/><circle cx="290.6" cy="241.2" r="7.4" fill="url(#gb)"/><circle cx="270.2" cy="275.1" r="7.4" fill="url(#gb)"/><circle cx="237.3" cy="272.8" r="5.9" fill="url(#gb)"/><circle cx="285.0" cy="227.3" r="7.2" fill="url(#gb)"/><circle cx="275.1" cy="241.7" r="6.8" fill="url(#gb)"/><circle cx="255.7" cy="283.1" r="5.8" fill="url(#gb)"/><circle cx="294.9" cy="340.6" r="6.8" fill="url(#gb)"/><circle cx="326.1" cy="244.8" r="5.7" fill="url(#gb)"/><circle cx="264.2" cy="300.6" r="5.7" fill="url(#gb)"/><circle cx="248.7" cy="254.3" r="5.7" fill="url(#gb)"/><circle cx="336.0" cy="306.7" r="5.6" fill="url(#gb)"/><circle cx="272.1" cy="233.7" r="6.1" fill="url(#gb)"/><circle cx="349.9" cy="272.9" r="6.4" fill="url(#gb)"/><circle cx="315.2" cy="239.5" r="5.6" fill="url(#gb)"/><circle cx="289.7" cy="324.3" r="5.8" fill="url(#gb)"/><circle cx="329.8" cy="259.2" r="6.5" fill="url(#gb)"/><circle cx="296.4" cy="293.5" r="6.5" fill="url(#gb)"/><circle cx="331.2" cy="311.6" r="7.4" fill="url(#gb)"/><circle cx="322.7" cy="259.4" r="6.8" fill="url(#gb)"/><circle cx="278.5" cy="310.6" r="6.9" fill="url(#gb)"/><circle cx="279.7" cy="292.7" r="6.2" fill="url(#gb)"/><circle cx="269.3" cy="261.7" r="6.1" fill="url(#gb)"/><circle cx="348.4" cy="269.7" r="6.8" fill="url(#gb)"/><circle cx="241.8" cy="316.2" r="5.6" fill="url(#gb)"/><circle cx="348.8" cy="299.3" r="5.6" fill="url(#gb)"/><circle cx="294.2" cy="255.5" r="6.3" fill="url(#gb)"/><circle cx="318.5" cy="264.3" r="6.0" fill="url(#gb)"/><circle cx="313.1" cy="337.8" r="5.6" fill="url(#gb)"/><circle cx="263.9" cy="315.7" r="6.7" fill="url(#gb)"/><circle cx="249.9" cy="279.1" r="5.8" fill="url(#gb)"/><circle cx="326.1" cy="233.8" r="6.2" fill="url(#gb)"/><circle cx="345.5" cy="258.3" r="6.5" fill="url(#gb)"/><circle cx="281.8" cy="271.1" r="6.3" fill="url(#gb)"/><circle cx="331.8" cy="325.5" r="6.0" fill="url(#gb)"/><circle cx="317.7" cy="270.4" r="5.7" fill="url(#gb)"/><circle cx="312.5" cy="292.1" r="6.0" fill="url(#gb)"/><circle cx="272.7" cy="294.5" r="5.9" fill="url(#gb)"/><circle cx="302.8" cy="224.7" r="7.1" fill="url(#gb)"/><circle cx="288.6" cy="330.6" r="5.8" fill="url(#gb)"/><circle cx="277.3" cy="339.1" r="6.2" fill="url(#gb)"/><circle cx="277.3" cy="277.5" r="7.1" fill="url(#gb)"/><circle cx="256.0" cy="299.2" r="6.1" fill="url(#gb)"/><circle cx="313.4" cy="311.7" r="7.1" fill="url(#gb)"/><circle cx="272.3" cy="255.6" r="7.0" fill="url(#gb)"/><circle cx="343.8" cy="285.5" r="6.0" fill="url(#gb)"/><circle cx="233.7" cy="291.1" r="7.0" fill="url(#gb)"/><circle cx="272.6" cy="338.0" r="6.3" fill="url(#gb)"/><circle cx="239.4" cy="310.4" r="6.2" fill="url(#gb)"/><circle cx="291.0" cy="307.2" r="6.9" fill="url(#gb)"/><circle cx="342.1" cy="270.6" r="5.8" fill="url(#gb)"/><circle cx="342.6" cy="308.9" r="7.6" fill="url(#gb)"/><circle cx="276.2" cy="267.0" r="7.5" fill="url(#gb)"/><circle cx="334.1" cy="284.0" r="6.3" fill="url(#gb)"/><circle cx="313.3" cy="259.8" r="7.6" fill="url(#gb)"/><circle cx="238.3" cy="284.8" r="6.1" fill="url(#gb)"/><circle cx="245.2" cy="246.5" r="7.1" fill="url(#gb)"/><circle cx="338.4" cy="260.4" r="5.9" fill="url(#gb)"/><circle cx="259.9" cy="287.7" r="6.0" fill="url(#gb)"/><circle cx="317.1" cy="318.9" r="6.6" fill="url(#gb)"/><circle cx="296.8" cy="311.9" r="6.7" fill="url(#gb)"/><circle cx="309.7" cy="226.2" r="6.8" fill="url(#gb)"/><circle cx="301.4" cy="306.7" r="5.8" fill="url(#gb)"/><circle cx="287.8" cy="250.3" r="6.0" fill="url(#gb)"/><circle cx="328.6" cy="291.4" r="6.9" fill="url(#gb)"/><circle cx="316.0" cy="251.3" r="7.0" fill="url(#gb)"/><circle cx="322.9" cy="234.1" r="7.5" fill="url(#gb)"/><circle cx="243.8" cy="279.7" r="6.3" fill="url(#gb)"/><circle cx="303.2" cy="285.1" r="6.1" fill="url(#gb)"/><circle cx="330.7" cy="265.5" r="5.8" fill="url(#gb)"/><circle cx="234.9" cy="291.8" r="7.4" fill="url(#gb)"/><circle cx="258.2" cy="305.4" r="5.7" fill="url(#gb)"/><circle cx="259.2" cy="257.2" r="6.7" fill="url(#gb)"/><circle cx="283.5" cy="243.3" r="7.0" fill="url(#gb)"/><circle cx="301.3" cy="226.0" r="6.1" fill="url(#gb)"/><circle cx="303.1" cy="321.5" r="6.9" fill="url(#gb)"/><circle cx="309.4" cy="318.9" r="6.3" fill="url(#gb)"/><circle cx="268.0" cy="226.7" r="5.8" fill="url(#gb)"/><circle cx="256.5" cy="275.8" r="6.8" fill="url(#gb)"/><circle cx="252.6" cy="307.0" r="5.8" fill="url(#gb)"/><circle cx="291.2" cy="285.5" r="7.4" fill="url(#gb)"/><circle cx="240.5" cy="312.6" r="6.0" fill="url(#gb)"/><circle cx="298.3" cy="301.0" r="5.6" fill="url(#gb)"/><circle cx="276.1" cy="328.8" r="5.7" fill="url(#gb)"/><circle cx="263.1" cy="233.0" r="6.8" fill="url(#gb)"/><circle cx="311.6" cy="299.4" r="6.3" fill="url(#gb)"/><circle cx="281.3" cy="283.2" r="5.9" fill="url(#gb)"/><circle cx="232.3" cy="283.0" r="6.3" fill="url(#gb)"/><circle cx="281.6" cy="333.8" r="7.5" fill="url(#gb)"/><circle cx="279.5" cy="224.0" r="6.3" fill="url(#gb)"/><circle cx="349.8" cy="290.2" r="6.7" fill="url(#gb)"/><circle cx="259.7" cy="246.8" r="5.7" fill="url(#gb)"/><circle cx="291.7" cy="223.1" r="6.8" fill="url(#gb)"/><circle cx="327.8" cy="301.3" r="6.0" fill="url(#gb)"/><circle cx="315.0" cy="305.4" r="5.7" fill="url(#gb)"/><circle cx="264.6" cy="308.7" r="7.4" fill="url(#gb)"/><circle cx="274.8" cy="304.9" r="6.2" fill="url(#gb)"/><circle cx="344.1" cy="263.8" r="6.0" fill="url(#gb)"/><circle cx="287.2" cy="262.9" r="5.7" fill="url(#gb)"/><circle cx="503.3" cy="251.9" r="6.9" fill="url(#gy)"/><circle cx="470.6" cy="219.9" r="7.7" fill="url(#gy)"/><circle cx="458.2" cy="275.5" r="7.3" fill="url(#gy)"/><circle cx="456.1" cy="224.8" r="6.4" fill="url(#gy)"/><circle cx="475.7" cy="331.3" r="8.5" fill="url(#gy)"/><circle cx="457.0" cy="326.4" r="8.4" fill="url(#gy)"/><circle cx="475.9" cy="238.9" r="8.1" fill="url(#gy)"/><circle cx="502.7" cy="321.8" r="7.2" fill="url(#gy)"/><circle cx="506.7" cy="281.0" r="7.4" fill="url(#gy)"/><circle cx="488.0" cy="317.4" r="6.6" fill="url(#gy)"/><circle cx="461.2" cy="293.9" r="7.3" fill="url(#gy)"/><circle cx="496.2" cy="245.9" r="7.1" fill="url(#gy)"/><circle cx="482.2" cy="261.7" r="6.4" fill="url(#gy)"/><circle cx="449.0" cy="307.1" r="7.9" fill="url(#gy)"/><circle cx="482.1" cy="293.1" r="6.6" fill="url(#gy)"/><circle cx="479.1" cy="274.3" r="7.3" fill="url(#gy)"/><circle cx="484.2" cy="268.6" r="7.3" fill="url(#gy)"/><circle cx="495.7" cy="254.4" r="6.5" fill="url(#gy)"/><circle cx="474.5" cy="299.1" r="6.5" fill="url(#gy)"/><circle cx="466.2" cy="328.9" r="6.9" fill="url(#gy)"/><circle cx="494.6" cy="321.2" r="6.5" fill="url(#gy)"/><circle cx="452.4" cy="261.4" r="6.5" fill="url(#gy)"/><circle cx="477.7" cy="285.3" r="8.6" fill="url(#gy)"/><circle cx="468.5" cy="242.3" r="7.8" fill="url(#gy)"/><circle cx="499.6" cy="278.0" r="6.5" fill="url(#gy)"/><circle cx="477.9" cy="318.7" r="7.9" fill="url(#gy)"/><circle cx="474.2" cy="212.3" r="7.1" fill="url(#gy)"/><circle cx="453.2" cy="298.5" r="8.5" fill="url(#gy)"/><circle cx="493.0" cy="329.8" r="7.4" fill="url(#gy)"/><circle cx="459.3" cy="318.7" r="7.5" fill="url(#gy)"/><circle cx="465.4" cy="275.4" r="6.7" fill="url(#gy)"/><circle cx="441.8" cy="285.8" r="6.4" fill="url(#gy)"/><circle cx="470.1" cy="286.1" r="6.5" fill="url(#gy)"/><circle cx="463.7" cy="283.0" r="7.1" fill="url(#gy)"/><circle cx="495.2" cy="263.2" r="6.4" fill="url(#gy)"/><circle cx="489.4" cy="336.6" r="7.1" fill="url(#gy)"/><circle cx="461.6" cy="220.5" r="7.0" fill="url(#gy)"/><circle cx="438.4" cy="259.6" r="6.2" fill="url(#gy)"/><circle cx="452.7" cy="250.7" r="8.2" fill="url(#gy)"/><circle cx="483.7" cy="232.4" r="6.5" fill="url(#gy)"/><circle cx="468.0" cy="318.8" r="7.7" fill="url(#gy)"/><circle cx="478.2" cy="341.7" r="6.6" fill="url(#gy)"/><circle cx="500.8" cy="296.7" r="6.9" fill="url(#gy)"/><circle cx="509.5" cy="292.2" r="7.2" fill="url(#gy)"/><circle cx="502.6" cy="263.1" r="7.3" fill="url(#gy)"/><circle cx="505.5" cy="243.7" r="6.6" fill="url(#gy)"/><circle cx="462.4" cy="257.6" r="8.1" fill="url(#gy)"/><circle cx="507.5" cy="273.4" r="7.7" fill="url(#gy)"/><circle cx="459.7" cy="334.1" r="6.4" fill="url(#gy)"/><circle cx="486.9" cy="343.7" r="7.0" fill="url(#gy)"/><circle cx="502.5" cy="289.0" r="6.3" fill="url(#gy)"/><circle cx="453.3" cy="285.4" r="6.5" fill="url(#gy)"/><circle cx="460.3" cy="305.0" r="6.3" fill="url(#gy)"/><circle cx="452.1" cy="316.1" r="7.3" fill="url(#gy)"/><circle cx="471.1" cy="255.9" r="6.4" fill="url(#gy)"/><circle cx="443.2" cy="254.3" r="7.1" fill="url(#gy)"/><circle cx="492.1" cy="296.7" r="7.5" fill="url(#gy)"/><circle cx="488.9" cy="289.4" r="6.7" fill="url(#gy)"/><circle cx="468.3" cy="234.2" r="6.6" fill="url(#gy)"/><circle cx="443.4" cy="265.3" r="7.1" fill="url(#gy)"/><circle cx="508.2" cy="305.1" r="6.3" fill="url(#gy)"/><circle cx="440.1" cy="271.4" r="6.6" fill="url(#gy)"/><circle cx="481.6" cy="301.3" r="7.8" fill="url(#gy)"/><circle cx="493.0" cy="229.8" r="8.4" fill="url(#gy)"/><circle cx="462.5" cy="268.3" r="7.5" fill="url(#gy)"/><circle cx="488.5" cy="309.5" r="8.2" fill="url(#gy)"/><circle cx="487.4" cy="220.5" r="7.6" fill="url(#gy)"/><circle cx="496.1" cy="338.3" r="6.3" fill="url(#gy)"/><circle cx="442.6" cy="278.5" r="8.1" fill="url(#gy)"/><circle cx="470.5" cy="266.7" r="6.4" fill="url(#gy)"/><circle cx="487.8" cy="278.4" r="7.7" fill="url(#gy)"/><circle cx="496.2" cy="303.4" r="6.4" fill="url(#gy)"/><circle cx="482.9" cy="253.2" r="6.9" fill="url(#gy)"/><circle cx="444.3" cy="292.4" r="6.8" fill="url(#gy)"/><circle cx="456.1" cy="310.1" r="6.6" fill="url(#gy)"/><circle cx="495.3" cy="270.2" r="7.1" fill="url(#gy)"/><circle cx="486.3" cy="324.9" r="6.3" fill="url(#gy)"/><circle cx="450.8" cy="268.4" r="7.4" fill="url(#gy)"/><circle cx="484.0" cy="332.4" r="6.5" fill="url(#gy)"/><circle cx="467.7" cy="303.5" r="8.4" fill="url(#gy)"/><circle cx="471.3" cy="341.0" r="6.8" fill="url(#gy)"/><circle cx="500.2" cy="332.1" r="7.2" fill="url(#gy)"/><circle cx="463.4" cy="311.7" r="8.0" fill="url(#gy)"/><circle cx="499.5" cy="239.8" r="6.9" fill="url(#gy)"/><circle cx="509.9" cy="255.0" r="6.3" fill="url(#gy)"/><circle cx="448.8" cy="243.5" r="6.7" fill="url(#gy)"/><circle cx="489.0" cy="258.2" r="8.5" fill="url(#gy)"/><circle cx="472.2" cy="277.1" r="7.3" fill="url(#gy)"/><circle cx="507.6" cy="316.5" r="6.8" fill="url(#gy)"/><circle cx="488.9" cy="249.4" r="6.7" fill="url(#gy)"/><path fill="#c2341c" d="M466.0 241.3 L466.3 241.2 L466.6 241.0 L467.0 240.8 L467.4 240.6 L467.8 240.3 L468.3 240.1 L468.8 239.8 L469.3 239.6 L469.8 239.4 L470.3 239.2 L470.8 239.0 L471.3 238.8 L471.9 238.7 L472.4 238.5 L473.0 238.4 L473.6 238.2 L474.2 238.1 L474.9 238.0 L475.7 238.0 L476.5 238.0 L477.5 238.0 L478.5 238.1 L479.7 238.3 L480.9 238.4 L482.2 238.6 L483.6 238.8 L484.9 239.0 L486.2 239.2 L487.6 239.4 L488.8 239.6 L490.1 239.8 L491.4 240.0 L492.8 240.3 L494.1 240.5 L495.5 240.7 L496.8 240.9 L498.0 241.2 L499.1 241.4 L500.1 241.7 L501.0 241.9 L501.7 242.2 L502.2 242.5 L502.7 242.7 L503.0 243.0 L503.3 243.3 L503.5 243.5 L503.7 243.8 L504.0 244.1 L504.2 244.5 L504.5 244.8 L504.7 245.2 L504.9 245.5 L505.2 245.9 L505.4 246.4 L505.6 246.9 L505.8 247.4 L506.0 247.8 L506.2 248.3 L506.3 248.7 L506.5 249.0 L510.5 247.0 L510.4 246.8 L510.2 246.4 L510.0 246.0 L509.8 245.5 L509.5 245.0 L509.2 244.4 L508.8 243.8 L508.4 243.2 L508.0 242.7 L507.5 242.2 L507.1 241.8 L506.7 241.5 L506.3 241.1 L505.9 240.8 L505.4 240.4 L504.8 240.1 L504.2 239.8 L503.5 239.6 L502.7 239.3 L501.8 239.1 L500.8 238.8 L499.7 238.6 L498.5 238.4 L497.2 238.2 L495.9 238.0 L494.5 237.8 L493.2 237.6 L491.8 237.5 L490.5 237.3 L489.2 237.2 L487.9 237.0 L486.6 236.8 L485.2 236.7 L483.9 236.5 L482.5 236.4 L481.2 236.2 L479.9 236.1 L478.7 236.0 L477.5 236.0 L476.5 236.0 L475.5 236.1 L474.7 236.2 L473.9 236.3 L473.2 236.5 L472.5 236.7 L471.9 236.9 L471.3 237.1 L470.8 237.3 L470.2 237.6 L469.7 237.8 L469.2 238.1 L468.6 238.4 L468.1 238.7 L467.6 239.0 L467.2 239.4 L466.8 239.7 L466.4 240.0 L466.1 240.3 L465.8 240.5 L465.6 240.7 Z"/><path fill="#c2341c" d="M472.9 262.2 L472.6 262.3 L472.2 262.4 L471.7 262.5 L471.2 262.7 L470.6 262.8 L470.0 263.0 L469.3 263.2 L468.7 263.4 L468.2 263.6 L467.6 263.8 L467.2 264.1 L466.8 264.3 L466.3 264.5 L465.9 264.7 L465.5 265.0 L465.0 265.3 L464.6 265.7 L464.1 266.2 L463.7 266.8 L463.2 267.5 L462.6 268.2 L462.1 269.1 L461.5 270.1 L460.9 271.2 L460.3 272.3 L459.7 273.5 L459.1 274.7 L458.6 275.9 L458.0 277.0 L457.5 278.1 L457.1 279.2 L456.7 280.4 L456.3 281.5 L456.0 282.6 L455.7 283.7 L455.4 284.8 L455.0 285.8 L454.6 286.8 L454.2 287.7 L453.8 288.6 L453.2 289.5 L452.6 290.4 L451.9 291.3 L451.2 292.1 L450.4 293.0 L449.7 293.8 L448.9 294.7 L448.1 295.5 L447.4 296.2 L446.8 297.0 L446.2 297.7 L445.6 298.3 L445.0 299.0 L444.4 299.6 L443.9 300.1 L443.4 300.7 L442.9 301.1 L442.5 301.5 L442.2 301.9 L441.9 302.2 L444.9 304.8 L445.2 304.5 L445.5 304.1 L445.8 303.6 L446.2 303.0 L446.6 302.5 L447.1 301.8 L447.6 301.2 L448.1 300.5 L448.7 299.7 L449.2 299.0 L449.8 298.3 L450.5 297.5 L451.2 296.7 L451.9 295.8 L452.7 294.9 L453.5 294.0 L454.2 293.0 L454.9 292.1 L455.6 291.0 L456.2 290.0 L456.8 288.9 L457.2 287.8 L457.6 286.7 L457.9 285.5 L458.2 284.4 L458.5 283.3 L458.8 282.2 L459.1 281.2 L459.5 280.1 L459.9 279.1 L460.3 278.0 L460.8 276.9 L461.3 275.7 L461.8 274.5 L462.3 273.4 L462.9 272.2 L463.4 271.2 L463.9 270.2 L464.4 269.3 L464.8 268.5 L465.2 267.9 L465.6 267.4 L465.9 267.0 L466.2 266.7 L466.6 266.4 L466.9 266.2 L467.2 265.9 L467.6 265.7 L468.0 265.4 L468.4 265.2 L468.8 264.9 L469.3 264.6 L469.8 264.3 L470.4 264.1 L470.9 263.9 L471.5 263.6 L472.0 263.4 L472.4 263.3 L472.8 263.1 L473.1 263.0 Z"/><path fill="#c2341c" d="M504.6 285.7 L504.5 286.4 L504.3 287.3 L504.1 288.4 L503.8 289.7 L503.6 291.1 L503.4 292.5 L503.2 294.0 L503.1 295.4 L503.0 296.8 L503.1 298.1 L503.3 299.4 L503.6 300.6 L504.0 301.8 L504.4 302.9 L504.9 304.1 L505.4 305.2 L505.9 306.3 L506.4 307.4 L506.9 308.4 L507.4 309.5 L507.8 310.6 L508.4 311.7 L508.9 312.8 L509.5 313.9 L510.0 315.0 L510.5 316.0 L510.9 316.9 L511.2 317.9 L511.4 318.8 L511.5 319.6 L511.5 320.5 L511.4 321.4 L511.2 322.5 L511.0 323.5 L510.7 324.5 L510.3 325.5 L509.9 326.5 L509.5 327.3 L509.1 328.1 L508.8 328.7 L508.5 329.0 L508.1 329.3 L507.8 329.6 L507.3 329.8 L506.8 329.9 L506.4 330.1 L505.9 330.2 L505.4 330.3 L504.9 330.5 L504.5 330.6 L505.5 333.4 L505.7 333.3 L506.1 333.2 L506.5 333.1 L507.1 333.0 L507.8 332.8 L508.5 332.5 L509.2 332.2 L510.0 331.7 L510.7 331.1 L511.2 330.3 L511.7 329.5 L512.2 328.7 L512.7 327.7 L513.1 326.6 L513.5 325.5 L513.9 324.3 L514.2 323.1 L514.4 321.9 L514.5 320.6 L514.5 319.4 L514.3 318.2 L514.0 317.0 L513.5 315.9 L513.0 314.8 L512.5 313.7 L511.9 312.6 L511.3 311.6 L510.7 310.5 L510.1 309.5 L509.6 308.5 L509.1 307.4 L508.6 306.3 L508.0 305.3 L507.4 304.2 L506.9 303.1 L506.4 302.1 L505.9 301.0 L505.5 300.0 L505.1 298.9 L504.9 297.9 L504.7 296.7 L504.7 295.4 L504.7 294.1 L504.7 292.7 L504.8 291.2 L505.0 289.9 L505.1 288.6 L505.2 287.5 L505.3 286.5 L505.4 285.7 Z"/><path fill="#c2341c" d="M476.2 352.2 L475.9 351.6 L475.4 350.9 L474.9 350.1 L474.3 349.3 L473.7 348.5 L473.2 347.6 L472.8 346.8 L472.5 346.0 L472.4 345.4 L472.4 344.9 L472.7 344.4 L473.1 343.7 L473.8 342.9 L474.7 342.0 L475.6 341.2 L476.7 340.3 L477.8 339.4 L478.9 338.5 L480.0 337.5 L481.0 336.6 L481.9 335.7 L482.8 334.8 L483.8 334.0 L484.8 333.1 L485.8 332.1 L486.8 331.2 L487.8 330.3 L488.6 329.3 L489.4 328.4 L490.1 327.4 L490.6 326.3 L491.0 325.3 L491.4 324.3 L491.6 323.2 L491.8 322.2 L491.9 321.2 L491.9 320.3 L491.9 319.3 L491.8 318.5 L491.7 317.6 L491.4 316.8 L491.0 316.0 L490.6 315.3 L490.0 314.7 L489.5 314.1 L488.9 313.6 L488.4 313.1 L487.9 312.7 L487.6 312.4 L487.3 312.2 L486.7 312.6 L486.9 313.0 L487.2 313.4 L487.6 313.9 L488.0 314.4 L488.4 315.0 L488.8 315.6 L489.2 316.2 L489.4 316.8 L489.6 317.4 L489.7 318.0 L489.7 318.6 L489.7 319.4 L489.7 320.2 L489.6 321.0 L489.5 321.9 L489.3 322.7 L489.1 323.6 L488.8 324.4 L488.4 325.3 L487.9 326.0 L487.4 326.8 L486.7 327.6 L485.9 328.5 L485.0 329.3 L484.1 330.2 L483.1 331.0 L482.0 331.9 L481.0 332.8 L480.0 333.7 L479.0 334.6 L478.1 335.4 L477.1 336.3 L476.0 337.2 L474.9 338.1 L473.8 339.0 L472.7 339.9 L471.7 340.9 L470.8 341.8 L470.1 342.9 L469.6 344.1 L469.4 345.4 L469.5 346.7 L469.8 347.9 L470.3 349.1 L470.9 350.1 L471.5 351.1 L472.1 352.0 L472.6 352.8 L472.9 353.4 L473.2 353.8 Z"/><path fill="#c2341c" d="M477.8 353.3 L478.5 352.8 L479.4 352.3 L480.5 351.6 L481.8 350.8 L483.1 350.0 L484.5 349.1 L485.9 348.2 L487.3 347.4 L488.6 346.5 L489.8 345.8 L491.0 345.0 L492.1 344.3 L493.2 343.5 L494.3 342.7 L495.4 342.0 L496.5 341.3 L497.6 340.5 L498.6 339.8 L499.5 339.2 L500.5 338.5 L501.4 337.9 L502.3 337.2 L503.1 336.6 L504.0 336.0 L504.8 335.4 L505.5 334.8 L506.2 334.3 L506.8 333.9 L507.3 333.5 L507.7 333.2 L505.9 330.8 L505.5 331.1 L505.0 331.5 L504.4 331.9 L503.7 332.4 L503.0 333.0 L502.2 333.6 L501.3 334.2 L500.5 334.8 L499.6 335.4 L498.7 336.1 L497.8 336.7 L496.9 337.4 L495.9 338.1 L494.8 338.8 L493.8 339.5 L492.7 340.3 L491.6 341.0 L490.4 341.8 L489.3 342.5 L488.2 343.2 L487.0 344.0 L485.7 344.8 L484.3 345.7 L482.9 346.6 L481.5 347.4 L480.2 348.2 L479.0 349.0 L477.9 349.7 L476.9 350.3 L476.2 350.7 Z"/><circle cx="466.8" cy="251.1" r="6.4" fill="url(#gy)"/><circle cx="450.3" cy="277.9" r="6.7" fill="url(#gy)"/><circle cx="458.5" cy="238.4" r="6.9" fill="url(#gy)"/><circle cx="481.2" cy="225.2" r="6.6" fill="url(#gy)"/><circle cx="510.6" cy="263.7" r="6.9" fill="url(#gy)"/><circle cx="474.0" cy="309.2" r="6.6" fill="url(#gy)"/><circle cx="465.2" cy="338.5" r="6.2" fill="url(#gy)"/><circle cx="496.3" cy="287.6" r="6.3" fill="url(#gy)"/><circle cx="452.7" cy="231.4" r="7.9" fill="url(#gy)"/><circle cx="475.2" cy="261.4" r="7.2" fill="url(#gy)"/><circle cx="480.8" cy="310.1" r="6.5" fill="url(#gy)"/><circle cx="460.8" cy="246.6" r="6.3" fill="url(#gy)"/><circle cx="471.3" cy="293.0" r="7.0" fill="url(#gy)"/><circle cx="462.3" cy="228.0" r="7.5" fill="url(#gy)"/><circle cx="475.2" cy="249.8" r="8.2" fill="url(#gy)"/><circle cx="482.5" cy="243.7" r="7.0" fill="url(#gy)"/><circle cx="479.8" cy="217.2" r="7.5" fill="url(#gy)"/><circle cx="443.3" cy="247.5" r="6.5" fill="url(#gy)"/><circle cx="490.6" cy="240.5" r="7.0" fill="url(#gy)"/><circle cx="445.3" cy="299.1" r="6.6" fill="url(#gy)"/><circle cx="447.2" cy="236.1" r="6.3" fill="url(#gy)"/><circle cx="500.9" cy="311.3" r="7.6" fill="url(#gy)"/><circle cx="474.0" cy="227.6" r="6.8" fill="url(#gy)"/><circle cx="743.9" cy="271.8" r="6.4" fill="url(#gt)"/><circle cx="707.3" cy="271.3" r="6.2" fill="url(#gt)"/><circle cx="684.3" cy="238.5" r="8.1" fill="url(#gm)"/><circle cx="738.9" cy="276.2" r="5.7" fill="url(#gm)"/><circle cx="631.1" cy="256.5" r="6.7" fill="url(#gt)"/><circle cx="630.0" cy="263.3" r="5.7" fill="url(#gt)"/><circle cx="683.6" cy="282.6" r="7.6" fill="url(#gm)"/><circle cx="698.1" cy="284.4" r="5.7" fill="url(#gt)"/><circle cx="611.2" cy="250.3" r="5.9" fill="url(#gm)"/><circle cx="665.0" cy="218.4" r="5.7" fill="url(#gm)"/><circle cx="650.4" cy="286.2" r="6.6" fill="url(#gr)"/><circle cx="696.3" cy="265.7" r="6.5" fill="url(#gr)"/><circle cx="657.8" cy="264.3" r="6.7" fill="url(#gm)"/><circle cx="619.8" cy="270.5" r="7.1" fill="url(#gm)"/><circle cx="643.3" cy="239.3" r="5.8" fill="url(#gm)"/><circle cx="673.8" cy="239.1" r="5.8" fill="url(#gt)"/><circle cx="623.7" cy="265.0" r="5.9" fill="url(#gm)"/><circle cx="615.2" cy="279.3" r="5.8" fill="url(#gt)"/><circle cx="724.7" cy="265.9" r="5.6" fill="url(#gt)"/><circle cx="706.8" cy="284.5" r="6.6" fill="url(#gt)"/><circle cx="679.9" cy="270.0" r="5.7" fill="url(#gt)"/><circle cx="701.7" cy="252.0" r="8.3" fill="url(#gm)"/><circle cx="629.6" cy="269.8" r="7.2" fill="url(#gt)"/><circle cx="670.8" cy="270.9" r="7.8" fill="url(#gr)"/><circle cx="715.6" cy="248.6" r="6.0" fill="url(#gm)"/><circle cx="667.8" cy="242.5" r="6.3" fill="url(#gm)"/><circle cx="613.7" cy="244.3" r="6.5" fill="url(#gm)"/><circle cx="703.2" cy="227.2" r="5.7" fill="url(#gt)"/><circle cx="642.8" cy="245.9" r="6.3" fill="url(#gm)"/><circle cx="707.5" cy="232.4" r="7.4" fill="url(#gt)"/><circle cx="665.5" cy="277.6" r="6.8" fill="url(#gm)"/><circle cx="658.4" cy="235.0" r="5.7" fill="url(#gm)"/><circle cx="615.5" cy="261.2" r="7.6" fill="url(#gm)"/><circle cx="716.3" cy="238.4" r="6.0" fill="url(#gr)"/><circle cx="731.0" cy="257.0" r="8.2" fill="url(#gm)"/><circle cx="637.2" cy="235.7" r="8.1" fill="url(#gm)"/><circle cx="724.0" cy="281.7" r="6.4" fill="url(#gt)"/><circle cx="677.5" cy="287.9" r="5.7" fill="url(#gr)"/><circle cx="667.8" cy="250.3" r="6.0" fill="url(#gm)"/><circle cx="732.0" cy="268.1" r="5.6" fill="url(#gt)"/><circle cx="660.1" cy="249.7" r="5.7" fill="url(#gm)"/><circle cx="625.4" cy="238.2" r="6.2" fill="url(#gt)"/><circle cx="740.9" cy="263.9" r="8.2" fill="url(#gm)"/><circle cx="621.7" cy="280.3" r="7.2" fill="url(#gm)"/><circle cx="602.4" cy="263.4" r="5.9" fill="url(#gt)"/><circle cx="710.6" cy="242.9" r="7.7" fill="url(#gm)"/><circle cx="721.0" cy="244.5" r="6.9" fill="url(#gm)"/><circle cx="619.2" cy="251.3" r="6.6" fill="url(#gm)"/><circle cx="661.8" cy="256.2" r="6.2" fill="url(#gm)"/><circle cx="673.5" cy="223.5" r="6.0" fill="url(#gm)"/><circle cx="599.9" cy="270.1" r="7.8" fill="url(#gm)"/><circle cx="685.6" cy="220.4" r="6.0" fill="url(#gm)"/><circle cx="695.0" cy="240.2" r="7.3" fill="url(#gt)"/><circle cx="652.0" cy="261.7" r="5.9" fill="url(#gm)"/><circle cx="649.9" cy="248.3" r="7.6" fill="url(#gm)"/><circle cx="674.3" cy="250.5" r="5.6" fill="url(#gm)"/><circle cx="678.2" cy="245.2" r="6.9" fill="url(#gm)"/><circle cx="676.6" cy="216.8" r="5.6" fill="url(#gm)"/><circle cx="689.9" cy="265.8" r="5.8" fill="url(#gm)"/><circle cx="629.9" cy="284.5" r="6.1" fill="url(#gt)"/><circle cx="623.6" cy="258.2" r="6.8" fill="url(#gm)"/><circle cx="704.3" cy="263.3" r="6.4" fill="url(#gm)"/><circle cx="692.2" cy="222.7" r="6.7" fill="url(#gm)"/><circle cx="661.9" cy="269.8" r="5.9" fill="url(#gm)"/><circle cx="630.6" cy="228.7" r="5.8" fill="url(#gm)"/><circle cx="677.5" cy="276.9" r="8.1" fill="url(#gr)"/><circle cx="714.0" cy="269.2" r="6.2" fill="url(#gt)"/><circle cx="702.3" cy="276.7" r="7.7" fill="url(#gm)"/><circle cx="671.7" cy="230.8" r="6.7" fill="url(#gt)"/><circle cx="728.0" cy="247.5" r="6.2" fill="url(#gt)"/><circle cx="691.5" cy="279.4" r="7.8" fill="url(#gt)"/><circle cx="738.0" cy="256.5" r="5.8" fill="url(#gm)"/><circle cx="687.6" cy="248.5" r="6.1" fill="url(#gm)"/><circle cx="662.2" cy="226.5" r="7.1" fill="url(#gm)"/><circle cx="673.5" cy="256.5" r="5.9" fill="url(#gm)"/><circle cx="695.0" cy="272.6" r="7.3" fill="url(#gt)"/><circle cx="715.0" cy="262.7" r="5.8" fill="url(#gm)"/><circle cx="692.7" cy="288.0" r="5.7" fill="url(#gt)"/><circle cx="643.3" cy="287.1" r="6.0" fill="url(#gt)"/><circle cx="721.8" cy="252.4" r="8.2" fill="url(#gm)"/><circle cx="701.0" cy="244.8" r="5.7" fill="url(#gm)"/><circle cx="692.9" cy="233.8" r="5.8" fill="url(#gt)"/><circle cx="667.7" cy="284.4" r="6.9" fill="url(#gm)"/><circle cx="649.6" cy="232.8" r="6.5" fill="url(#gt)"/><circle cx="729.2" cy="274.8" r="8.2" fill="url(#gm)"/><circle cx="655.8" cy="229.6" r="5.8" fill="url(#gt)"/><circle cx="680.0" cy="223.7" r="6.1" fill="url(#gm)"/><circle cx="647.8" cy="222.4" r="6.3" fill="url(#gm)"/><circle cx="648.8" cy="272.4" r="6.2" fill="url(#gm)"/><circle cx="644.4" cy="254.2" r="8.4" fill="url(#gt)"/><circle cx="654.7" cy="240.9" r="8.1" fill="url(#gr)"/><circle cx="662.0" cy="239.8" r="6.2" fill="url(#gm)"/><circle cx="687.7" cy="272.4" r="7.0" fill="url(#gm)"/><circle cx="721.3" cy="272.9" r="7.8" fill="url(#gm)"/><circle cx="633.7" cy="245.4" r="6.6" fill="url(#gm)"/><circle cx="628.5" cy="277.4" r="6.8" fill="url(#gm)"/><circle cx="600.2" cy="258.0" r="5.7" fill="url(#gm)"/><circle cx="699.2" cy="259.7" r="5.9" fill="url(#gm)"/><circle cx="628.0" cy="248.5" r="6.1" fill="url(#gm)"/><circle cx="707.2" cy="257.4" r="6.1" fill="url(#gm)"/><circle cx="608.1" cy="272.7" r="6.9" fill="url(#gm)"/><circle cx="664.6" cy="234.0" r="6.4" fill="url(#gm)"/><circle cx="684.0" cy="229.6" r="6.5" fill="url(#gt)"/><circle cx="604.1" cy="253.3" r="5.9" fill="url(#gm)"/><circle cx="704.1" cy="239.2" r="6.2" fill="url(#gm)"/><circle cx="623.0" cy="244.9" r="5.8" fill="url(#gm)"/><circle cx="655.5" cy="220.3" r="7.0" fill="url(#gt)"/><circle cx="660.4" cy="285.2" r="7.2" fill="url(#gm)"/><circle cx="684.1" cy="262.1" r="6.9" fill="url(#gm)"/><circle cx="638.4" cy="282.3" r="7.7" fill="url(#gm)"/><circle cx="678.2" cy="233.7" r="6.0" fill="url(#gt)"/><circle cx="636.7" cy="264.5" r="7.0" fill="url(#gm)"/><circle cx="676.0" cy="264.7" r="5.6" fill="url(#gm)"/><circle cx="693.0" cy="251.1" r="5.7" fill="url(#gm)"/><circle cx="638.7" cy="271.9" r="8.2" fill="url(#gt)"/><circle cx="698.2" cy="230.2" r="6.1" fill="url(#gm)"/><circle cx="680.1" cy="254.1" r="7.7" fill="url(#gm)"/><circle cx="691.3" cy="258.3" r="7.8" fill="url(#gr)"/><circle cx="655.2" cy="255.9" r="6.7" fill="url(#gm)"/><circle cx="713.2" cy="254.9" r="6.8" fill="url(#gt)"/><circle cx="611.6" cy="267.1" r="5.8" fill="url(#gt)"/><circle cx="636.4" cy="251.9" r="6.9" fill="url(#gt)"/><circle cx="714.8" cy="281.1" r="8.1" fill="url(#gt)"/><circle cx="639.3" cy="228.6" r="6.3" fill="url(#gm)"/><circle cx="748.2" cy="267.1" r="6.2" fill="url(#gm)"/><circle cx="667.1" cy="260.9" r="6.4" fill="url(#gt)"/><circle cx="644.3" cy="262.3" r="6.9" fill="url(#gm)"/><circle cx="607.6" cy="259.3" r="7.1" fill="url(#gm)"/><circle cx="645.9" cy="281.0" r="6.2" fill="url(#gt)"/><circle cx="722.9" cy="259.9" r="6.2" fill="url(#gm)"/><circle cx="709.0" cy="249.8" r="6.3" fill="url(#gm)"/><circle cx="618.6" cy="237.5" r="6.1" fill="url(#gm)"/><circle cx="641.3" cy="222.8" r="5.8" fill="url(#gm)"/><circle cx="657.3" cy="275.7" r="8.2" fill="url(#gm)"/><circle cx="596.0" cy="266.0" r="6.0" fill="url(#gr)"/><circle cx="592.0" cy="281.0" r="6.5" fill="url(#gm)"/><circle cx="611.0" cy="292.0" r="8.0" fill="url(#gm)"/><circle cx="632.0" cy="294.0" r="6.0" fill="url(#gm)"/><circle cx="644.0" cy="288.0" r="6.0" fill="url(#gm)"/><circle cx="654.7" cy="299.0" r="7.5" fill="url(#gt)"/><circle cx="665.6" cy="296.5" r="6.0" fill="url(#gr)"/><circle cx="668.0" cy="316.0" r="6.0" fill="url(#gt)"/><circle cx="691.0" cy="308.0" r="6.0" fill="url(#gm)"/><circle cx="694.0" cy="295.0" r="7.5" fill="url(#gt)"/><circle cx="714.0" cy="298.0" r="7.5" fill="url(#gt)"/><circle cx="718.0" cy="313.0" r="6.0" fill="url(#gm)"/><circle cx="724.0" cy="304.0" r="6.0" fill="url(#gr)"/><circle cx="732.0" cy="296.5" r="6.0" fill="url(#gm)"/><circle cx="746.0" cy="291.0" r="6.0" fill="url(#gt)"/><circle cx="761.5" cy="281.0" r="6.5" fill="url(#gm)"/><circle cx="745.0" cy="264.0" r="7.0" fill="url(#gr)"/><circle cx="741.0" cy="277.0" r="7.0" fill="url(#gm)"/><circle cx="605.6" cy="277.0" r="6.0" fill="url(#gm)"/><circle cx="617.0" cy="278.0" r="6.5" fill="url(#gr)"/><circle cx="611.0" cy="265.0" r="7.5" fill="url(#gt)"/><path fill="none" stroke="#1e1e1e" stroke-width="1.3" d="M118.0 152.8 L152.4 152.8 L152.4 130.0 L56.0 130.0 L56.0 152.8 M56.0 152.8 L104.7 152.8"/><path stroke="#1a1a1a" stroke-width="1.4" d="M104.7 151.6 L104.7 231.5"/><path fill="none" stroke="#1e1e1e" stroke-width="1.3" d="M297.3 152.8 L331.5 152.8 L331.5 130.0 L235.3 130.0 L235.3 152.8 M235.3 152.8 L284.0 152.8"/><path stroke="#1a1a1a" stroke-width="1.4" d="M284.0 151.6 L284.0 232.0"/><path fill="none" stroke="#1e1e1e" stroke-width="1.3" d="M488.0 152.8 L522.7 152.8 L522.7 130.0 L426.0 130.0 L426.0 152.8 M426.0 152.8 L474.7 152.8"/><path stroke="#1a1a1a" stroke-width="1.4" d="M474.7 151.6 L474.7 231.0"/><path fill="none" stroke="#1e1e1e" stroke-width="1.3" d="M685.0 152.8 L719.2 152.8 L719.2 130.0 L623.5 130.0 L623.5 152.8 M623.5 152.8 L672.0 152.8"/><path stroke="#1a1a1a" stroke-width="1.4" d="M672.0 151.6 L672.0 231.0"/><g font-family="Liberation Sans, sans-serif" fill="#111"><text x="66.4" y="147.2" font-size="13" textLength="76.2" lengthAdjust="spacingAndGlyphs">BIRTHMARK</text><text x="262.7" y="147.2" font-size="13" textLength="37.3" lengthAdjust="spacingAndGlyphs">MOLE</text><text x="436.8" y="147.2" font-size="13" textLength="73.1" lengthAdjust="spacingAndGlyphs">PAPILLOMA</text><text x="632.5" y="147.2" font-size="13" textLength="77.4" lengthAdjust="spacingAndGlyphs">MELANOMA</text><text x="64.4" y="91.5" font-size="23" textLength="73.3" lengthAdjust="spacingAndGlyphs">Vết bớt</text><text x="240.0" y="74.7" font-size="23" textLength="78.7" lengthAdjust="spacingAndGlyphs">Nốt ruồi</text><text x="221.3" y="106.7" font-size="23" textLength="121.4" lengthAdjust="spacingAndGlyphs">bình thường</text><text x="444.8" y="91.2" font-size="23" textLength="59.7" lengthAdjust="spacingAndGlyphs">U nhú</text><text x="624.5" y="74.7" font-size="23" textLength="79.0" lengthAdjust="spacingAndGlyphs">Nốt ruồi</text><text x="633.3" y="106.7" font-size="23" textLength="65.9" lengthAdjust="spacingAndGlyphs">ác tính</text></g></svg></body></html>
